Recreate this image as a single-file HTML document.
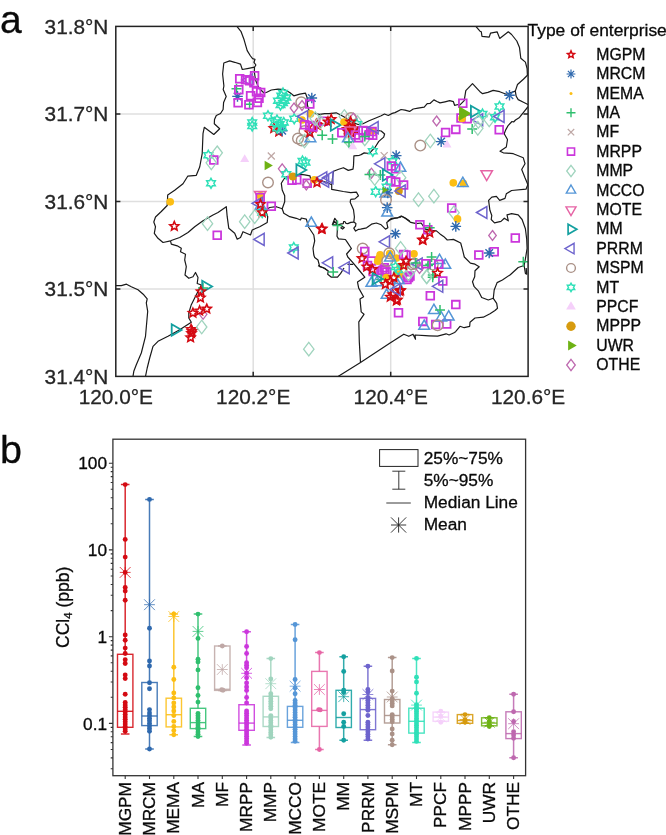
<!DOCTYPE html><html><head><meta charset="utf-8"><title>Figure</title>
<style>html,body{margin:0;padding:0;background:#fff}svg{display:block}text{font-family:"Liberation Sans", sans-serif;fill:#0a0a0a;stroke:#0a0a0a;stroke-width:0.3px}.ax{fill:#262626;stroke:#262626}</style></head><body>
<svg width="666" height="835" viewBox="0 0 666 835">
<rect width="666" height="835" fill="#fff"/>
<text x="0" y="32.8" font-size="39">a</text>
<text x="0" y="463.2" font-size="39.5">b</text>
<g id="map">
<clipPath id="mc"><rect x="115.8" y="26.4" width="412.3" height="350.0"/></clipPath>
<line x1="253.2" x2="253.2" y1="26.4" y2="376.4" stroke="#dfdfdf" stroke-width="1.5"/>
<line x1="390.7" x2="390.7" y1="26.4" y2="376.4" stroke="#dfdfdf" stroke-width="1.5"/>
<line x1="115.8" x2="528.1" y1="288.9" y2="288.9" stroke="#dfdfdf" stroke-width="1.5"/>
<line x1="115.8" x2="528.1" y1="201.4" y2="201.4" stroke="#dfdfdf" stroke-width="1.5"/>
<line x1="115.8" x2="528.1" y1="113.9" y2="113.9" stroke="#dfdfdf" stroke-width="1.5"/>
<g clip-path="url(#mc)" fill="none" stroke="#1a1a1a" stroke-width="1.2" stroke-linejoin="round">
<polyline points="236.9,26.4 241.1,31.7 244.1,39.8 247.2,50.6 250.5,56.0 252.6,58.7 255.0,59.3 254.0,62.3 255.9,65.0 254.5,67.2 254.4,72.3 255.5,80.0 258.0,86.0 260.4,89.5 264.0,93.0 266.3,92.5 271.3,90.0 278.0,89.2 284.7,89.7 289.7,92.5 293.8,95.8 299.7,94.2 305.5,93.2 307.3,98.0 307.4,105.0 308.8,110.0 311.6,112.5 314.7,113.5 319.7,114.3 324.7,113.6 329.0,113.7 336.2,112.8 341.1,115.2 346.0,118.0 352.0,122.0 358.0,124.5 363.0,123.7 369.1,120.7 375.2,118.2 381.2,115.8 384.5,114.0 388.3,115.5 392.2,113.4 395.0,112.6 401.1,109.5 405.0,110.2 409.6,111.4 413.2,109.0 418.0,108.2 424.2,107.2 427.2,103.7 430.0,103.5 433.9,99.9 437.0,101.5 440.0,102.9 445.0,101.8 449.7,100.7 453.4,101.7 454.6,105.3 458.2,104.5 459.2,105.7 464.2,100.7 465.8,90.7 472.5,83.7 478.3,89.8 480.0,91.7 482.6,93.7 487.9,92.4 493.2,90.4 499.7,91.7 506.3,94.3 515.3,91.1"/>
<polyline points="254.5,67.2 248.6,68.3 242.3,69.5 240.5,64.1 234.7,62.3 229.7,60.9 223.8,63.0 222.6,74.0 223.9,86.0 223.2,89.5 226.2,96.5 223.6,102.5 223.1,109.5 220.5,113.5 216.3,115.5 214.5,119.5 214.3,123.7 219.7,128.7 213.8,134.5 204.3,127.3 203.0,133.7 202.2,153.7 199.7,167.0 196.3,175.3 187.7,176.2 183.0,183.7 174.7,190.3 167.7,195.0 167.2,205.5 161.3,211.5 155.5,217.0 153.8,222.0 155.5,226.7 154.3,233.3 158.0,238.3 163.0,242.5 170.5,240.8"/>
<polyline points="170.5,240.8 179.7,237.5 188.0,232.5 194.7,226.7 203.0,220.8 213.0,215.0 218.0,212.5 226.3,206.7 227.2,216.7 228.8,228.3 234.7,233.3 237.2,239.2 240.5,237.5 243.0,231.7 250.5,235.0 252.2,230.0 259.7,226.7 267.2,222.5 267.7,216.7 265.5,210.0 269.7,207.5 276.3,206.7 282.2,208.7"/>
<polyline points="170.5,240.8 171.3,244.2 177.2,245.8 181.3,248.3 180.5,251.7 185.5,254.2 184.7,260.0 186.3,266.7 185.0,275.0 188.8,278.3 193.0,276.7 195.5,272.5 198.0,277.5 197.2,283.5 201.3,285.0 196.3,294.7 191.3,304.7 188.8,313.0 188.8,318.0 191.3,322.2 179.7,329.7 168.0,336.3 158.0,341.3 153.0,346.3 149.7,358.0 147.2,368.0 145.5,376.4"/>
<polyline points="115.8,285.7 121.3,285.6 126.5,284.2 131.3,286.7 138.0,289.8 143.8,294.8 147.2,298.8 146.3,303.0 147.7,311.3 145.5,336.3 141.3,353.0 136.3,364.7 133.8,371.3 133.0,376.4"/>
<polyline points="283.8,179.2 281.3,183.3 282.2,190.0 284.7,195.8 284.7,201.7 282.2,208.7 283.8,213.3 289.7,216.7 296.3,218.3 300.5,220.0 301.3,218.0 306.3,219.2 308.8,227.5 313.8,235.0 314.7,240.8 313.0,248.3 313.8,255.0 314.7,257.5 318.0,260.0 319.7,266.7 324.7,268.3 328.3,271.1 327.7,274.2 331.4,277.2 337.5,277.2 340.5,273.6 344.0,268.0"/>
<polyline points="283.8,179.2 286.0,177.0 290.0,176.3 296.0,175.0 301.1,174.3 304.7,174.9 310.0,175.8 310.7,179.4 316.0,180.0 322.3,181.0 327.5,182.8 331.7,184.7 331.7,189.4 343.3,191.5 350.7,192.6 356.4,192.1 358.5,195.7 354.9,198.9 350.6,199.3"/>
<polyline points="318.0,265.6 322.9,267.5 328.3,271.1"/>
<polyline points="376.4,130.4 381.2,131.0 384.6,134.0 383.7,137.1 378.8,141.4 375.1,147.3 373.9,148.6 369.1,153.5 364.2,152.9 361.1,154.6 359.4,155.3 353.9,155.8 353.7,160.8 353.5,165.4 353.0,169.2 348.3,170.4 343.4,167.7 338.7,169.3 333.5,171.3 332.5,178.0 331.7,184.7"/>
<polyline points="387.8,221.0 391.5,218.4 397.6,217.8 401.2,216.0 404.9,217.8 409.7,221.0"/>
<polyline points="475.8,26.4 480.0,31.2 481.3,31.8 482.0,36.4 489.2,37.1 490.5,33.2 497.1,31.8 499.7,38.4 508.3,31.8 511.6,34.5 516.8,41.0 519.5,47.6 520.8,58.2 525.4,62.1 527.1,68.7 527.4,75.3 523.4,79.2 517.5,84.5 515.3,91.1 516.2,96.3 518.2,99.6 523.4,102.2 527.4,104.2 528.1,104.6"/>
<polyline points="528.1,106.5 527.4,107.5 524.7,110.8 519.5,117.4 515.5,120.0 513.6,122.0 512.0,121.5 508.3,125.3 505.7,129.9 504.2,133.7 507.5,139.5 506.3,147.0 500.0,151.2 503.3,152.8 513.3,153.7 523.3,157.8 525.0,163.7 521.7,169.5 525.0,177.8 527.5,183.7 528.1,186.0"/>
<polyline points="528.1,184.5 527.4,185.8 526.0,189.2 511.6,190.5 506.3,193.8 505.0,198.4 499.7,200.4 496.4,196.4 491.8,197.1 488.6,200.4 489.9,210.3 491.8,215.5 491.2,219.5 494.5,222.8 501.0,221.4 504.3,218.2 508.3,220.8 507.0,214.9 511.6,213.6 518.2,214.9 522.1,219.5 525.4,228.7 526.7,239.2 527.1,248.4 525.4,259.0 524.1,265.5 525.4,273.4 526.7,274.1 526.2,268.0"/>
<polyline points="524.1,265.5 518.2,267.5 510.3,274.7 502.4,280.0 497.1,282.6 494.2,290.0 493.3,298.3 496.7,303.3 497.5,308.3 495.0,310.5 490.0,313.8 483.3,317.2 475.0,318.0 470.0,322.2 469.7,326.3 464.2,327.7 460.0,326.3 455.8,331.3 454.6,332.5 449.1,335.0 446.1,333.8 437.6,336.2 429.0,335.8 425.4,335.6 415.0,335.0 415.5,339.2 413.0,334.2 408.8,336.3 403.8,334.2 389.7,343.3 360.5,362.5 338.0,376.4"/>
<polyline points="350.6,199.3 350.2,202.3 351.4,205.0 353.5,209.8 354.4,217.0 353.8,222.1 355.9,223.6 355.6,226.0 353.8,228.1 355.6,231.1 358.6,229.3 360.6,229.1 366.6,227.8 371.5,224.2 376.4,223.0 381.2,224.8 385.5,229.1 387.9,227.8 386.7,222.4 391.0,219.3 395.0,218.2 399.9,217.5 401.7,216.3 405.9,218.7 410.8,222.4 416.3,223.6 421.1,223.0 425.4,229.1 430.3,230.3 436.4,230.9 440.0,233.9 443.6,236.4 447.3,240.0 453.4,239.4 460.7,243.0 462.5,249.7 464.3,257.0 470.4,263.1 475.0,264.2 479.2,266.7 475.0,270.8 474.7,276.7 472.5,281.7 474.2,286.7 478.3,290.8 481.7,297.5 488.3,300.0 493.3,298.3"/>
<polyline points="353.8,222.1 350.8,222.4 347.8,223.6 346.0,223.3 344.8,221.5 343.6,221.5 343.3,223.6 341.2,223.9 337.6,225.1 337.3,230.8 337.0,236.2 338.5,238.9 345.4,239.5 347.2,242.2 351.4,248.5 346.6,254.0 347.8,257.0 353.3,263.2 359.4,270.5 364.8,277.2 357.5,282.1 358.7,288.1 363.6,296.7 360.0,299.1 361.2,311.9 364.0,314.3 358.8,321.9 359.3,341.7 360.5,362.5"/>
<polyline points="332.3,224.6 334.8,218.3 336.8,221.0 337.2,224.8 332.3,224.6 334.8,221.5 337.2,224.8"/>
<polyline points="340.6,227.8 342.4,226.6 344.3,227.6 342.6,229.1 340.6,227.8"/>
<polyline points="347.5,264.3 353.3,264.3"/>
</g>
<g clip-path="url(#mc)">
<path transform="translate(236.5 88.8)" d="M-5.00 0H5.00 M0 -5.00V5.00" fill="none" stroke="#2fbf6e" stroke-width="1.50" stroke-linejoin="miter"/>
<path transform="translate(249.6 104.3)" d="M-5.00 0H5.00 M0 -5.00V5.00" fill="none" stroke="#2fbf6e" stroke-width="1.50" stroke-linejoin="miter"/>
<path transform="translate(237.5 96.4)" d="M-5.30 -0.00 L5.30 0.00 M-3.75 -3.75 L3.75 3.75 M-0.00 -5.30 L0.00 5.30 M3.75 -3.75 L-3.75 3.75" fill="none" stroke="#2f69ae" stroke-width="1.40" stroke-linejoin="miter"/>
<path transform="translate(248.7 80.0)" d="M-6.90 0.00 L3.45 -5.98 L3.45 5.98Z" fill="none" stroke="#6e64cd" stroke-width="1.50" stroke-linejoin="miter"/>
<path transform="translate(239.7 78.8)" d="M-3.85 -3.85h7.70v7.70h-7.70z" fill="none" stroke="#cb36dc" stroke-width="1.80" stroke-linejoin="miter"/>
<path transform="translate(245.6 79.8)" d="M-3.85 -3.85h7.70v7.70h-7.70z" fill="none" stroke="#cb36dc" stroke-width="1.80" stroke-linejoin="miter"/>
<path transform="translate(249.7 80.8)" d="M-3.85 -3.85h7.70v7.70h-7.70z" fill="none" stroke="#cb36dc" stroke-width="1.80" stroke-linejoin="miter"/>
<path transform="translate(254.6 75.8)" d="M-3.85 -3.85h7.70v7.70h-7.70z" fill="none" stroke="#cb36dc" stroke-width="1.80" stroke-linejoin="miter"/>
<path transform="translate(253.9 82.7)" d="M-3.85 -3.85h7.70v7.70h-7.70z" fill="none" stroke="#cb36dc" stroke-width="1.80" stroke-linejoin="miter"/>
<path transform="translate(238.8 89.8)" d="M-3.85 -3.85h7.70v7.70h-7.70z" fill="none" stroke="#cb36dc" stroke-width="1.80" stroke-linejoin="miter"/>
<path transform="translate(238.1 102.8)" d="M-3.85 -3.85h7.70v7.70h-7.70z" fill="none" stroke="#cb36dc" stroke-width="1.80" stroke-linejoin="miter"/>
<path transform="translate(250.6 95.8)" d="M-3.85 -3.85h7.70v7.70h-7.70z" fill="none" stroke="#cb36dc" stroke-width="1.80" stroke-linejoin="miter"/>
<path transform="translate(248.9 104.7)" d="M-3.85 -3.85h7.70v7.70h-7.70z" fill="none" stroke="#cb36dc" stroke-width="1.80" stroke-linejoin="miter"/>
<path transform="translate(256.5 91.8)" d="M-3.85 -3.85h7.70v7.70h-7.70z" fill="none" stroke="#cb36dc" stroke-width="1.80" stroke-linejoin="miter"/>
<path transform="translate(260.7 92.4)" d="M-3.85 -3.85h7.70v7.70h-7.70z" fill="none" stroke="#cb36dc" stroke-width="1.80" stroke-linejoin="miter"/>
<path transform="translate(259.0 98.2)" d="M-3.85 -3.85h7.70v7.70h-7.70z" fill="none" stroke="#cb36dc" stroke-width="1.80" stroke-linejoin="miter"/>
<path transform="translate(257.4 102.5)" d="M-3.85 -3.85h7.70v7.70h-7.70z" fill="none" stroke="#cb36dc" stroke-width="1.80" stroke-linejoin="miter"/>
<path transform="translate(281.3 95.8)" d="M0.00 -4.95 L1.43 -2.48 L4.29 -2.48 L2.86 0.00 L4.29 2.47 L1.43 2.48 L0.00 4.95 L-1.43 2.48 L-4.29 2.48 L-2.86 0.00 L-4.29 -2.48 L-1.43 -2.47Z" fill="none" stroke="#2fe0b8" stroke-width="1.50" stroke-linejoin="miter"/>
<path transform="translate(284.7 100.8)" d="M0.00 -4.95 L1.43 -2.48 L4.29 -2.48 L2.86 0.00 L4.29 2.47 L1.43 2.48 L0.00 4.95 L-1.43 2.48 L-4.29 2.48 L-2.86 0.00 L-4.29 -2.48 L-1.43 -2.47Z" fill="none" stroke="#2fe0b8" stroke-width="1.50" stroke-linejoin="miter"/>
<path transform="translate(280.5 105.0)" d="M0.00 -4.95 L1.43 -2.48 L4.29 -2.48 L2.86 0.00 L4.29 2.47 L1.43 2.48 L0.00 4.95 L-1.43 2.48 L-4.29 2.48 L-2.86 0.00 L-4.29 -2.48 L-1.43 -2.47Z" fill="none" stroke="#2fe0b8" stroke-width="1.50" stroke-linejoin="miter"/>
<path transform="translate(286.3 97.5)" d="M0.00 -4.95 L1.43 -2.48 L4.29 -2.48 L2.86 0.00 L4.29 2.47 L1.43 2.48 L0.00 4.95 L-1.43 2.48 L-4.29 2.48 L-2.86 0.00 L-4.29 -2.48 L-1.43 -2.47Z" fill="none" stroke="#2fe0b8" stroke-width="1.50" stroke-linejoin="miter"/>
<path transform="translate(278.0 100.8)" d="M0.00 -4.95 L1.43 -2.48 L4.29 -2.48 L2.86 0.00 L4.29 2.47 L1.43 2.48 L0.00 4.95 L-1.43 2.48 L-4.29 2.48 L-2.86 0.00 L-4.29 -2.48 L-1.43 -2.47Z" fill="none" stroke="#2fe0b8" stroke-width="1.50" stroke-linejoin="miter"/>
<path transform="translate(283.0 93.0)" d="M0.00 -4.95 L1.43 -2.48 L4.29 -2.48 L2.86 0.00 L4.29 2.47 L1.43 2.48 L0.00 4.95 L-1.43 2.48 L-4.29 2.48 L-2.86 0.00 L-4.29 -2.48 L-1.43 -2.47Z" fill="none" stroke="#2fe0b8" stroke-width="1.50" stroke-linejoin="miter"/>
<path transform="translate(283.0 103.0)" d="M0.00 -4.95 L1.43 -2.48 L4.29 -2.48 L2.86 0.00 L4.29 2.47 L1.43 2.48 L0.00 4.95 L-1.43 2.48 L-4.29 2.48 L-2.86 0.00 L-4.29 -2.48 L-1.43 -2.47Z" fill="none" stroke="#2fe0b8" stroke-width="1.50" stroke-linejoin="miter"/>
<path transform="translate(252.2 122.5)" d="M0.00 -4.95 L1.43 -2.48 L4.29 -2.48 L2.86 0.00 L4.29 2.47 L1.43 2.48 L0.00 4.95 L-1.43 2.48 L-4.29 2.48 L-2.86 0.00 L-4.29 -2.48 L-1.43 -2.47Z" fill="none" stroke="#2fe0b8" stroke-width="1.50" stroke-linejoin="miter"/>
<path transform="translate(252.2 126.0)" d="M0.00 -4.95 L1.43 -2.48 L4.29 -2.48 L2.86 0.00 L4.29 2.47 L1.43 2.48 L0.00 4.95 L-1.43 2.48 L-4.29 2.48 L-2.86 0.00 L-4.29 -2.48 L-1.43 -2.47Z" fill="none" stroke="#2fe0b8" stroke-width="1.50" stroke-linejoin="miter"/>
<path transform="translate(273.8 128.3)" d="M0.00 -4.70 L1.27 -1.75 L4.47 -1.45 L2.06 0.67 L2.76 3.80 L0.00 2.16 L-2.76 3.80 L-2.06 0.67 L-4.47 -1.45 L-1.27 -1.75Z" fill="none" stroke="#d40a12" stroke-width="1.60" stroke-linejoin="miter"/>
<path transform="translate(278.8 131.7)" d="M0.00 -4.70 L1.27 -1.75 L4.47 -1.45 L2.06 0.67 L2.76 3.80 L0.00 2.16 L-2.76 3.80 L-2.06 0.67 L-4.47 -1.45 L-1.27 -1.75Z" fill="none" stroke="#d40a12" stroke-width="1.60" stroke-linejoin="miter"/>
<path transform="translate(282.2 130.8)" d="M-5.30 -0.00 L5.30 0.00 M-3.75 -3.75 L3.75 3.75 M-0.00 -5.30 L0.00 5.30 M3.75 -3.75 L-3.75 3.75" fill="none" stroke="#2f69ae" stroke-width="1.40" stroke-linejoin="miter"/>
<path transform="translate(268.0 115.8)" d="M0.00 -4.95 L1.43 -2.48 L4.29 -2.48 L2.86 0.00 L4.29 2.47 L1.43 2.48 L0.00 4.95 L-1.43 2.48 L-4.29 2.48 L-2.86 0.00 L-4.29 -2.48 L-1.43 -2.47Z" fill="none" stroke="#2fe0b8" stroke-width="1.50" stroke-linejoin="miter"/>
<path transform="translate(274.7 122.5)" d="M0.00 -4.95 L1.43 -2.48 L4.29 -2.48 L2.86 0.00 L4.29 2.47 L1.43 2.48 L0.00 4.95 L-1.43 2.48 L-4.29 2.48 L-2.86 0.00 L-4.29 -2.48 L-1.43 -2.47Z" fill="none" stroke="#2fe0b8" stroke-width="1.50" stroke-linejoin="miter"/>
<path transform="translate(279.7 124.2)" d="M0.00 -4.95 L1.43 -2.48 L4.29 -2.48 L2.86 0.00 L4.29 2.47 L1.43 2.48 L0.00 4.95 L-1.43 2.48 L-4.29 2.48 L-2.86 0.00 L-4.29 -2.48 L-1.43 -2.47Z" fill="none" stroke="#2fe0b8" stroke-width="1.50" stroke-linejoin="miter"/>
<path transform="translate(283.8 122.5)" d="M0.00 -4.95 L1.43 -2.48 L4.29 -2.48 L2.86 0.00 L4.29 2.47 L1.43 2.48 L0.00 4.95 L-1.43 2.48 L-4.29 2.48 L-2.86 0.00 L-4.29 -2.48 L-1.43 -2.47Z" fill="none" stroke="#2fe0b8" stroke-width="1.50" stroke-linejoin="miter"/>
<path transform="translate(277.2 128.3)" d="M0.00 -4.95 L1.43 -2.48 L4.29 -2.48 L2.86 0.00 L4.29 2.47 L1.43 2.48 L0.00 4.95 L-1.43 2.48 L-4.29 2.48 L-2.86 0.00 L-4.29 -2.48 L-1.43 -2.47Z" fill="none" stroke="#2fe0b8" stroke-width="1.50" stroke-linejoin="miter"/>
<path transform="translate(282.2 127.5)" d="M0.00 -4.95 L1.43 -2.48 L4.29 -2.48 L2.86 0.00 L4.29 2.47 L1.43 2.48 L0.00 4.95 L-1.43 2.48 L-4.29 2.48 L-2.86 0.00 L-4.29 -2.48 L-1.43 -2.47Z" fill="none" stroke="#2fe0b8" stroke-width="1.50" stroke-linejoin="miter"/>
<path transform="translate(277.0 120.0)" d="M0.00 -4.95 L1.43 -2.48 L4.29 -2.48 L2.86 0.00 L4.29 2.47 L1.43 2.48 L0.00 4.95 L-1.43 2.48 L-4.29 2.48 L-2.86 0.00 L-4.29 -2.48 L-1.43 -2.47Z" fill="none" stroke="#2fe0b8" stroke-width="1.50" stroke-linejoin="miter"/>
<path transform="translate(294.2 118.8)" d="M0.00 -4.95 L1.43 -2.48 L4.29 -2.48 L2.86 0.00 L4.29 2.47 L1.43 2.48 L0.00 4.95 L-1.43 2.48 L-4.29 2.48 L-2.86 0.00 L-4.29 -2.48 L-1.43 -2.47Z" fill="none" stroke="#2fe0b8" stroke-width="1.50" stroke-linejoin="miter"/>
<path transform="translate(294.0 108.0)" d="M0 -5.00L3.80 0L0 5.00L-3.80 0Z" fill="none" stroke="#be69af" stroke-width="1.30" stroke-linejoin="miter"/>
<path transform="translate(302.0 105.5)" d="M0 -5.00L3.80 0L0 5.00L-3.80 0Z" fill="none" stroke="#be69af" stroke-width="1.30" stroke-linejoin="miter"/>
<circle cx="301.3" cy="102.3" r="5.30" fill="none" stroke="#aa9187" stroke-width="1.40"/>
<circle cx="298.0" cy="138.5" r="5.30" fill="none" stroke="#aa9187" stroke-width="1.40"/>
<circle cx="301.7" cy="140.5" r="5.30" fill="none" stroke="#aa9187" stroke-width="1.40"/>
<circle cx="304.5" cy="131.0" r="5.30" fill="none" stroke="#aa9187" stroke-width="1.40"/>
<path transform="translate(311.8 98.0)" d="M-5.30 -0.00 L5.30 0.00 M-3.75 -3.75 L3.75 3.75 M-0.00 -5.30 L0.00 5.30 M3.75 -3.75 L-3.75 3.75" fill="none" stroke="#2f69ae" stroke-width="1.40" stroke-linejoin="miter"/>
<path transform="translate(309.8 104.1)" d="M-3.85 -3.85h7.70v7.70h-7.70z" fill="none" stroke="#cb36dc" stroke-width="1.80" stroke-linejoin="miter"/>
<circle cx="310.4" cy="113.9" r="3.85" fill="#fcbe14"/>
<circle cx="302.0" cy="120.0" r="3.85" fill="#fcbe14"/>
<path transform="translate(304.2 116.5)" d="M-6.90 0.00 L3.45 -5.98 L3.45 5.98Z" fill="none" stroke="#6e64cd" stroke-width="1.50" stroke-linejoin="miter"/>
<path transform="translate(304.5 141.0)" d="M0 -6.80L5.20 0L0 6.80L-5.20 0Z" fill="none" stroke="#a0d4be" stroke-width="1.30" stroke-linejoin="miter"/>
<path transform="translate(310.4 138.6)" d="M0.00 -6.20 L5.37 3.10 L-5.37 3.10Z" fill="none" stroke="#5596d7" stroke-width="1.50" stroke-linejoin="miter"/>
<path transform="translate(312.8 127.7)" d="M0.00 -4.70 L1.27 -1.75 L4.47 -1.45 L2.06 0.67 L2.76 3.80 L0.00 2.16 L-2.76 3.80 L-2.06 0.67 L-4.47 -1.45 L-1.27 -1.75Z" fill="none" stroke="#d40a12" stroke-width="1.60" stroke-linejoin="miter"/>
<path transform="translate(309.8 132.6)" d="M0.00 -4.70 L1.27 -1.75 L4.47 -1.45 L2.06 0.67 L2.76 3.80 L0.00 2.16 L-2.76 3.80 L-2.06 0.67 L-4.47 -1.45 L-1.27 -1.75Z" fill="none" stroke="#d40a12" stroke-width="1.60" stroke-linejoin="miter"/>
<path transform="translate(317.7 125.3)" d="M0.00 -4.70 L1.27 -1.75 L4.47 -1.45 L2.06 0.67 L2.76 3.80 L0.00 2.16 L-2.76 3.80 L-2.06 0.67 L-4.47 -1.45 L-1.27 -1.75Z" fill="none" stroke="#d40a12" stroke-width="1.60" stroke-linejoin="miter"/>
<path transform="translate(316.3 124.2)" d="M0.00 -4.70 L1.27 -1.75 L4.47 -1.45 L2.06 0.67 L2.76 3.80 L0.00 2.16 L-2.76 3.80 L-2.06 0.67 L-4.47 -1.45 L-1.27 -1.75Z" fill="none" stroke="#d40a12" stroke-width="1.60" stroke-linejoin="miter"/>
<path transform="translate(304.5 124.8)" d="M-3.85 -3.85h7.70v7.70h-7.70z" fill="none" stroke="#cb36dc" stroke-width="1.80" stroke-linejoin="miter"/>
<path transform="translate(309.8 125.5)" d="M-3.85 -3.85h7.70v7.70h-7.70z" fill="none" stroke="#cb36dc" stroke-width="1.80" stroke-linejoin="miter"/>
<path transform="translate(313.0 127.0)" d="M-3.85 -3.85h7.70v7.70h-7.70z" fill="none" stroke="#cb36dc" stroke-width="1.80" stroke-linejoin="miter"/>
<path transform="translate(323.4 121.2)" d="M-3.85 -3.85h7.70v7.70h-7.70z" fill="none" stroke="#cb36dc" stroke-width="1.80" stroke-linejoin="miter"/>
<path transform="translate(315.3 118.6)" d="M0 -6.80L5.20 0L0 6.80L-5.20 0Z" fill="none" stroke="#a0d4be" stroke-width="1.30" stroke-linejoin="miter"/>
<path transform="translate(320.2 122.0)" d="M0 -6.80L5.20 0L0 6.80L-5.20 0Z" fill="none" stroke="#a0d4be" stroke-width="1.30" stroke-linejoin="miter"/>
<path transform="translate(331.2 119.3)" d="M0.00 -4.70 L1.27 -1.75 L4.47 -1.45 L2.06 0.67 L2.76 3.80 L0.00 2.16 L-2.76 3.80 L-2.06 0.67 L-4.47 -1.45 L-1.27 -1.75Z" fill="none" stroke="#d40a12" stroke-width="1.60" stroke-linejoin="miter"/>
<path transform="translate(328.0 121.7)" d="M0.00 -4.70 L1.27 -1.75 L4.47 -1.45 L2.06 0.67 L2.76 3.80 L0.00 2.16 L-2.76 3.80 L-2.06 0.67 L-4.47 -1.45 L-1.27 -1.75Z" fill="none" stroke="#d40a12" stroke-width="1.60" stroke-linejoin="miter"/>
<path transform="translate(322.2 135.3)" d="M-5.00 0H5.00 M0 -5.00V5.00" fill="none" stroke="#2fbf6e" stroke-width="1.50" stroke-linejoin="miter"/>
<path transform="translate(332.5 139.1)" d="M-5.00 0H5.00 M0 -5.00V5.00" fill="none" stroke="#2fbf6e" stroke-width="1.50" stroke-linejoin="miter"/>
<path transform="translate(334.1 125.0)" d="M6.60 0.00 L-3.30 5.72 L-3.30 -5.72Z" fill="none" stroke="#14a0a0" stroke-width="1.80" stroke-linejoin="miter"/>
<path transform="translate(344.3 116.5)" d="M0 -6.80L5.20 0L0 6.80L-5.20 0Z" fill="none" stroke="#a0d4be" stroke-width="1.30" stroke-linejoin="miter"/>
<path transform="translate(357.5 122.5)" d="M0 -6.80L5.20 0L0 6.80L-5.20 0Z" fill="none" stroke="#a0d4be" stroke-width="1.30" stroke-linejoin="miter"/>
<path transform="translate(364.8 138.9)" d="M0 -6.80L5.20 0L0 6.80L-5.20 0Z" fill="none" stroke="#a0d4be" stroke-width="1.30" stroke-linejoin="miter"/>
<path transform="translate(349.0 141.0)" d="M0 -6.80L5.20 0L0 6.80L-5.20 0Z" fill="none" stroke="#a0d4be" stroke-width="1.30" stroke-linejoin="miter"/>
<circle cx="351.0" cy="118.1" r="5.30" fill="none" stroke="#aa9187" stroke-width="1.40"/>
<path transform="translate(353.3 118.2)" d="M0 -5.00L3.80 0L0 5.00L-3.80 0Z" fill="none" stroke="#be69af" stroke-width="1.30" stroke-linejoin="miter"/>
<circle cx="344.0" cy="122.0" r="3.85" fill="#fcbe14"/>
<path transform="translate(356.9 124.3)" d="M0.00 -4.95 L1.43 -2.48 L4.29 -2.48 L2.86 0.00 L4.29 2.47 L1.43 2.48 L0.00 4.95 L-1.43 2.48 L-4.29 2.48 L-2.86 0.00 L-4.29 -2.48 L-1.43 -2.47Z" fill="none" stroke="#2fe0b8" stroke-width="1.50" stroke-linejoin="miter"/>
<path transform="translate(350.6 121.8)" d="M0.00 -4.70 L1.27 -1.75 L4.47 -1.45 L2.06 0.67 L2.76 3.80 L0.00 2.16 L-2.76 3.80 L-2.06 0.67 L-4.47 -1.45 L-1.27 -1.75Z" fill="none" stroke="#d40a12" stroke-width="1.60" stroke-linejoin="miter"/>
<path transform="translate(347.2 129.2)" d="M0.00 -4.70 L1.27 -1.75 L4.47 -1.45 L2.06 0.67 L2.76 3.80 L0.00 2.16 L-2.76 3.80 L-2.06 0.67 L-4.47 -1.45 L-1.27 -1.75Z" fill="none" stroke="#d40a12" stroke-width="1.60" stroke-linejoin="miter"/>
<path transform="translate(352.1 131.0)" d="M0.00 -4.70 L1.27 -1.75 L4.47 -1.45 L2.06 0.67 L2.76 3.80 L0.00 2.16 L-2.76 3.80 L-2.06 0.67 L-4.47 -1.45 L-1.27 -1.75Z" fill="none" stroke="#d40a12" stroke-width="1.60" stroke-linejoin="miter"/>
<path transform="translate(354.5 128.6)" d="M0.00 -4.70 L1.27 -1.75 L4.47 -1.45 L2.06 0.67 L2.76 3.80 L0.00 2.16 L-2.76 3.80 L-2.06 0.67 L-4.47 -1.45 L-1.27 -1.75Z" fill="none" stroke="#d40a12" stroke-width="1.60" stroke-linejoin="miter"/>
<path transform="translate(349.5 127.0)" d="M0.00 -4.70 L1.27 -1.75 L4.47 -1.45 L2.06 0.67 L2.76 3.80 L0.00 2.16 L-2.76 3.80 L-2.06 0.67 L-4.47 -1.45 L-1.27 -1.75Z" fill="none" stroke="#d40a12" stroke-width="1.60" stroke-linejoin="miter"/>
<path transform="translate(351.5 133.0)" d="M0.00 -4.70 L1.27 -1.75 L4.47 -1.45 L2.06 0.67 L2.76 3.80 L0.00 2.16 L-2.76 3.80 L-2.06 0.67 L-4.47 -1.45 L-1.27 -1.75Z" fill="none" stroke="#d40a12" stroke-width="1.60" stroke-linejoin="miter"/>
<path transform="translate(347.5 131.4)" d="M0.00 -4.70 L1.27 -1.75 L4.47 -1.45 L2.06 0.67 L2.76 3.80 L0.00 2.16 L-2.76 3.80 L-2.06 0.67 L-4.47 -1.45 L-1.27 -1.75Z" fill="none" stroke="#d40a12" stroke-width="1.60" stroke-linejoin="miter"/>
<circle cx="372.1" cy="131.0" r="3.85" fill="#fcbe14"/>
<path transform="translate(341.8 132.8)" d="M-3.85 -3.85h7.70v7.70h-7.70z" fill="none" stroke="#cb36dc" stroke-width="1.80" stroke-linejoin="miter"/>
<path transform="translate(358.7 137.7)" d="M-3.85 -3.85h7.70v7.70h-7.70z" fill="none" stroke="#cb36dc" stroke-width="1.80" stroke-linejoin="miter"/>
<path transform="translate(366.0 131.0)" d="M-3.85 -3.85h7.70v7.70h-7.70z" fill="none" stroke="#cb36dc" stroke-width="1.80" stroke-linejoin="miter"/>
<path transform="translate(369.1 134.7)" d="M-3.85 -3.85h7.70v7.70h-7.70z" fill="none" stroke="#cb36dc" stroke-width="1.80" stroke-linejoin="miter"/>
<path transform="translate(372.1 131.6)" d="M-3.85 -3.85h7.70v7.70h-7.70z" fill="none" stroke="#cb36dc" stroke-width="1.80" stroke-linejoin="miter"/>
<path transform="translate(372.7 135.3)" d="M-3.85 -3.85h7.70v7.70h-7.70z" fill="none" stroke="#cb36dc" stroke-width="1.80" stroke-linejoin="miter"/>
<path transform="translate(363.0 130.4)" d="M-3.85 -3.85h7.70v7.70h-7.70z" fill="none" stroke="#cb36dc" stroke-width="1.80" stroke-linejoin="miter"/>
<path transform="translate(355.4 135.0)" d="M-3.85 -3.85h7.70v7.70h-7.70z" fill="none" stroke="#cb36dc" stroke-width="1.80" stroke-linejoin="miter"/>
<path transform="translate(350.5 130.2)" d="M0.00 6.60 L-5.72 -3.30 L5.72 -3.30Z" fill="none" stroke="#e664a5" stroke-width="1.50" stroke-linejoin="miter"/>
<path transform="translate(374.7 127.6)" d="M-6.90 0.00 L3.45 -5.98 L3.45 5.98Z" fill="none" stroke="#6e64cd" stroke-width="1.50" stroke-linejoin="miter"/>
<path transform="translate(347.9 138.6)" d="M0.00 -6.20 L5.37 3.10 L-5.37 3.10Z" fill="none" stroke="#5596d7" stroke-width="1.50" stroke-linejoin="miter"/>
<path transform="translate(349.0 142.6)" d="M-5.00 0H5.00 M0 -5.00V5.00" fill="none" stroke="#2fbf6e" stroke-width="1.50" stroke-linejoin="miter"/>
<path transform="translate(364.8 136.5)" d="M-5.00 0H5.00 M0 -5.00V5.00" fill="none" stroke="#2fbf6e" stroke-width="1.50" stroke-linejoin="miter"/>
<path transform="translate(352.8 146.7)" d="M0.00 -5.20 L4.50 2.60 L-4.50 2.60Z" fill="#f5d0fa" stroke="none" stroke-width="0.00" stroke-linejoin="miter"/>
<path transform="translate(372.8 151.3)" d="M0.00 -4.95 L1.43 -2.48 L4.29 -2.48 L2.86 0.00 L4.29 2.47 L1.43 2.48 L0.00 4.95 L-1.43 2.48 L-4.29 2.48 L-2.86 0.00 L-4.29 -2.48 L-1.43 -2.47Z" fill="none" stroke="#2fe0b8" stroke-width="1.50" stroke-linejoin="miter"/>
<path transform="translate(208.3 155.3)" d="M0.00 -4.95 L1.43 -2.48 L4.29 -2.48 L2.86 0.00 L4.29 2.47 L1.43 2.48 L0.00 4.95 L-1.43 2.48 L-4.29 2.48 L-2.86 0.00 L-4.29 -2.48 L-1.43 -2.47Z" fill="none" stroke="#2fe0b8" stroke-width="1.50" stroke-linejoin="miter"/>
<path transform="translate(217.2 152.8)" d="M0 -6.80L5.20 0L0 6.80L-5.20 0Z" fill="none" stroke="#a0d4be" stroke-width="1.30" stroke-linejoin="miter"/>
<path transform="translate(213.8 160.0)" d="M-3.85 -3.85h7.70v7.70h-7.70z" fill="none" stroke="#cb36dc" stroke-width="1.80" stroke-linejoin="miter"/>
<path transform="translate(211.3 162.8)" d="M0 -6.80L5.20 0L0 6.80L-5.20 0Z" fill="none" stroke="#a0d4be" stroke-width="1.30" stroke-linejoin="miter"/>
<path transform="translate(211.0 183.3)" d="M0.00 -4.95 L1.43 -2.48 L4.29 -2.48 L2.86 0.00 L4.29 2.47 L1.43 2.48 L0.00 4.95 L-1.43 2.48 L-4.29 2.48 L-2.86 0.00 L-4.29 -2.48 L-1.43 -2.47Z" fill="none" stroke="#2fe0b8" stroke-width="1.50" stroke-linejoin="miter"/>
<circle cx="170.2" cy="201.8" r="3.85" fill="#fcbe14"/>
<path transform="translate(174.3 226.2)" d="M0.00 -4.70 L1.27 -1.75 L4.47 -1.45 L2.06 0.67 L2.76 3.80 L0.00 2.16 L-2.76 3.80 L-2.06 0.67 L-4.47 -1.45 L-1.27 -1.75Z" fill="none" stroke="#d40a12" stroke-width="1.60" stroke-linejoin="miter"/>
<path transform="translate(207.5 223.7)" d="M0 -6.80L5.20 0L0 6.80L-5.20 0Z" fill="none" stroke="#a0d4be" stroke-width="1.30" stroke-linejoin="miter"/>
<path transform="translate(217.2 235.3)" d="M-3.85 -3.85h7.70v7.70h-7.70z" fill="none" stroke="#cb36dc" stroke-width="1.80" stroke-linejoin="miter"/>
<path transform="translate(203.0 288.0)" d="M-5.00 0H5.00 M0 -5.00V5.00" fill="none" stroke="#2fbf6e" stroke-width="1.50" stroke-linejoin="miter"/>
<path transform="translate(205.5 286.5)" d="M6.60 0.00 L-3.30 5.72 L-3.30 -5.72Z" fill="none" stroke="#14a0a0" stroke-width="1.80" stroke-linejoin="miter"/>
<path transform="translate(175.0 330.0)" d="M6.60 0.00 L-3.30 5.72 L-3.30 -5.72Z" fill="none" stroke="#14a0a0" stroke-width="1.80" stroke-linejoin="miter"/>
<path transform="translate(203.1 314.3)" d="M0 -5.00L3.80 0L0 5.00L-3.80 0Z" fill="none" stroke="#be69af" stroke-width="1.30" stroke-linejoin="miter"/>
<path transform="translate(201.0 291.5)" d="M0.00 -4.70 L1.27 -1.75 L4.47 -1.45 L2.06 0.67 L2.76 3.80 L0.00 2.16 L-2.76 3.80 L-2.06 0.67 L-4.47 -1.45 L-1.27 -1.75Z" fill="none" stroke="#d40a12" stroke-width="1.60" stroke-linejoin="miter"/>
<path transform="translate(200.5 297.8)" d="M0.00 -4.70 L1.27 -1.75 L4.47 -1.45 L2.06 0.67 L2.76 3.80 L0.00 2.16 L-2.76 3.80 L-2.06 0.67 L-4.47 -1.45 L-1.27 -1.75Z" fill="none" stroke="#d40a12" stroke-width="1.60" stroke-linejoin="miter"/>
<path transform="translate(192.9 313.0)" d="M0.00 -4.70 L1.27 -1.75 L4.47 -1.45 L2.06 0.67 L2.76 3.80 L0.00 2.16 L-2.76 3.80 L-2.06 0.67 L-4.47 -1.45 L-1.27 -1.75Z" fill="none" stroke="#d40a12" stroke-width="1.60" stroke-linejoin="miter"/>
<path transform="translate(199.6 310.8)" d="M0.00 -4.70 L1.27 -1.75 L4.47 -1.45 L2.06 0.67 L2.76 3.80 L0.00 2.16 L-2.76 3.80 L-2.06 0.67 L-4.47 -1.45 L-1.27 -1.75Z" fill="none" stroke="#d40a12" stroke-width="1.60" stroke-linejoin="miter"/>
<path transform="translate(206.8 308.9)" d="M0.00 -4.70 L1.27 -1.75 L4.47 -1.45 L2.06 0.67 L2.76 3.80 L0.00 2.16 L-2.76 3.80 L-2.06 0.67 L-4.47 -1.45 L-1.27 -1.75Z" fill="none" stroke="#d40a12" stroke-width="1.60" stroke-linejoin="miter"/>
<path transform="translate(191.1 329.3)" d="M0.00 -4.70 L1.27 -1.75 L4.47 -1.45 L2.06 0.67 L2.76 3.80 L0.00 2.16 L-2.76 3.80 L-2.06 0.67 L-4.47 -1.45 L-1.27 -1.75Z" fill="none" stroke="#d40a12" stroke-width="1.60" stroke-linejoin="miter"/>
<path transform="translate(191.5 333.3)" d="M0.00 -4.70 L1.27 -1.75 L4.47 -1.45 L2.06 0.67 L2.76 3.80 L0.00 2.16 L-2.76 3.80 L-2.06 0.67 L-4.47 -1.45 L-1.27 -1.75Z" fill="none" stroke="#d40a12" stroke-width="1.60" stroke-linejoin="miter"/>
<path transform="translate(190.6 337.6)" d="M0.00 -4.70 L1.27 -1.75 L4.47 -1.45 L2.06 0.67 L2.76 3.80 L0.00 2.16 L-2.76 3.80 L-2.06 0.67 L-4.47 -1.45 L-1.27 -1.75Z" fill="none" stroke="#d40a12" stroke-width="1.60" stroke-linejoin="miter"/>
<path transform="translate(192.0 331.3)" d="M0.00 -4.70 L1.27 -1.75 L4.47 -1.45 L2.06 0.67 L2.76 3.80 L0.00 2.16 L-2.76 3.80 L-2.06 0.67 L-4.47 -1.45 L-1.27 -1.75Z" fill="none" stroke="#d40a12" stroke-width="1.60" stroke-linejoin="miter"/>
<path transform="translate(201.7 327.0)" d="M0 -6.80L5.20 0L0 6.80L-5.20 0Z" fill="none" stroke="#a0d4be" stroke-width="1.30" stroke-linejoin="miter"/>
<path transform="translate(244.7 159.5)" d="M0.00 -5.20 L4.50 2.60 L-4.50 2.60Z" fill="#f5d0fa" stroke="none" stroke-width="0.00" stroke-linejoin="miter"/>
<path transform="translate(271.3 156.0)" d="M-3.50 -3.50L3.50 3.50 M-3.50 3.50L3.50 -3.50" fill="none" stroke="#bfa8a6" stroke-width="1.30" stroke-linejoin="miter"/>
<path transform="translate(267.4 165.5)" d="M5.50 0.00 L-2.75 4.76 L-2.75 -4.76Z" fill="#6eb214" stroke="none" stroke-width="0.00" stroke-linejoin="miter"/>
<circle cx="268.0" cy="182.5" r="5.30" fill="none" stroke="#aa9187" stroke-width="1.40"/>
<path transform="translate(282.2 168.8)" d="M0 -5.00L3.80 0L0 5.00L-3.80 0Z" fill="none" stroke="#be69af" stroke-width="1.30" stroke-linejoin="miter"/>
<path transform="translate(286.3 174.2)" d="M0.00 -4.95 L1.43 -2.48 L4.29 -2.48 L2.86 0.00 L4.29 2.47 L1.43 2.48 L0.00 4.95 L-1.43 2.48 L-4.29 2.48 L-2.86 0.00 L-4.29 -2.48 L-1.43 -2.47Z" fill="none" stroke="#2fe0b8" stroke-width="1.50" stroke-linejoin="miter"/>
<path transform="translate(296.8 179.8)" d="M-3.85 -3.85h7.70v7.70h-7.70z" fill="none" stroke="#cb36dc" stroke-width="1.80" stroke-linejoin="miter"/>
<path transform="translate(292.0 180.2)" d="M-3.85 -3.85h7.70v7.70h-7.70z" fill="none" stroke="#cb36dc" stroke-width="1.80" stroke-linejoin="miter"/>
<circle cx="292.8" cy="176.6" r="4.00" fill="#d79b0f"/>
<path transform="translate(299.7 170.0)" d="M6.60 0.00 L-3.30 5.72 L-3.30 -5.72Z" fill="none" stroke="#14a0a0" stroke-width="1.80" stroke-linejoin="miter"/>
<path transform="translate(302.5 161.0)" d="M0.00 -4.95 L1.43 -2.48 L4.29 -2.48 L2.86 0.00 L4.29 2.47 L1.43 2.48 L0.00 4.95 L-1.43 2.48 L-4.29 2.48 L-2.86 0.00 L-4.29 -2.48 L-1.43 -2.47Z" fill="none" stroke="#2fe0b8" stroke-width="1.50" stroke-linejoin="miter"/>
<path transform="translate(305.5 162.5)" d="M0.00 -4.95 L1.43 -2.48 L4.29 -2.48 L2.86 0.00 L4.29 2.47 L1.43 2.48 L0.00 4.95 L-1.43 2.48 L-4.29 2.48 L-2.86 0.00 L-4.29 -2.48 L-1.43 -2.47Z" fill="none" stroke="#2fe0b8" stroke-width="1.50" stroke-linejoin="miter"/>
<path transform="translate(307.2 183.3)" d="M-3.85 -3.85h7.70v7.70h-7.70z" fill="none" stroke="#cb36dc" stroke-width="1.80" stroke-linejoin="miter"/>
<path transform="translate(306.3 185.0)" d="M0 -5.00L3.80 0L0 5.00L-3.80 0Z" fill="none" stroke="#be69af" stroke-width="1.30" stroke-linejoin="miter"/>
<circle cx="314.3" cy="179.8" r="3.85" fill="#fcbe14"/>
<path transform="translate(325.2 181.2)" d="M-6.90 0.00 L3.45 -5.98 L3.45 5.98Z" fill="none" stroke="#6e64cd" stroke-width="1.50" stroke-linejoin="miter"/>
<path transform="translate(329.5 177.6)" d="M-6.90 0.00 L3.45 -5.98 L3.45 5.98Z" fill="none" stroke="#6e64cd" stroke-width="1.50" stroke-linejoin="miter"/>
<path transform="translate(323.3 177.8)" d="M-6.90 0.00 L3.45 -5.98 L3.45 5.98Z" fill="none" stroke="#6e64cd" stroke-width="1.50" stroke-linejoin="miter"/>
<path transform="translate(317.0 182.6)" d="M0.00 -4.70 L1.27 -1.75 L4.47 -1.45 L2.06 0.67 L2.76 3.80 L0.00 2.16 L-2.76 3.80 L-2.06 0.67 L-4.47 -1.45 L-1.27 -1.75Z" fill="none" stroke="#d40a12" stroke-width="1.60" stroke-linejoin="miter"/>
<path transform="translate(260.2 194.8)" d="M0.00 6.60 L-5.72 -3.30 L5.72 -3.30Z" fill="none" stroke="#e664a5" stroke-width="1.50" stroke-linejoin="miter"/>
<circle cx="260.5" cy="195.8" r="3.85" fill="#fcbe14"/>
<path transform="translate(260.2 197.5)" d="M-3.85 -3.85h7.70v7.70h-7.70z" fill="none" stroke="#cb36dc" stroke-width="1.80" stroke-linejoin="miter"/>
<path transform="translate(258.9 203.3)" d="M-6.90 0.00 L3.45 -5.98 L3.45 5.98Z" fill="none" stroke="#6e64cd" stroke-width="1.50" stroke-linejoin="miter"/>
<path transform="translate(260.5 206.1)" d="M0.00 -6.20 L5.37 3.10 L-5.37 3.10Z" fill="none" stroke="#5596d7" stroke-width="1.50" stroke-linejoin="miter"/>
<path transform="translate(260.5 204.2)" d="M0.00 -4.70 L1.27 -1.75 L4.47 -1.45 L2.06 0.67 L2.76 3.80 L0.00 2.16 L-2.76 3.80 L-2.06 0.67 L-4.47 -1.45 L-1.27 -1.75Z" fill="none" stroke="#d40a12" stroke-width="1.60" stroke-linejoin="miter"/>
<path transform="translate(271.3 206.3)" d="M-3.85 -3.85h7.70v7.70h-7.70z" fill="none" stroke="#cb36dc" stroke-width="1.80" stroke-linejoin="miter"/>
<path transform="translate(262.2 212.5)" d="M0.00 -4.95 L1.43 -2.48 L4.29 -2.48 L2.86 0.00 L4.29 2.47 L1.43 2.48 L0.00 4.95 L-1.43 2.48 L-4.29 2.48 L-2.86 0.00 L-4.29 -2.48 L-1.43 -2.47Z" fill="none" stroke="#2fe0b8" stroke-width="1.50" stroke-linejoin="miter"/>
<path transform="translate(262.2 212.5)" d="M0.00 -4.70 L1.27 -1.75 L4.47 -1.45 L2.06 0.67 L2.76 3.80 L0.00 2.16 L-2.76 3.80 L-2.06 0.67 L-4.47 -1.45 L-1.27 -1.75Z" fill="none" stroke="#d40a12" stroke-width="1.60" stroke-linejoin="miter"/>
<path transform="translate(244.7 221.7)" d="M0 -6.80L5.20 0L0 6.80L-5.20 0Z" fill="none" stroke="#a0d4be" stroke-width="1.30" stroke-linejoin="miter"/>
<path transform="translate(254.7 216.7)" d="M0 -6.80L5.20 0L0 6.80L-5.20 0Z" fill="none" stroke="#a0d4be" stroke-width="1.30" stroke-linejoin="miter"/>
<path transform="translate(260.7 239.4)" d="M-6.90 0.00 L3.45 -5.98 L3.45 5.98Z" fill="none" stroke="#6e64cd" stroke-width="1.50" stroke-linejoin="miter"/>
<path transform="translate(311.3 223.2)" d="M0.00 -6.20 L5.37 3.10 L-5.37 3.10Z" fill="none" stroke="#5596d7" stroke-width="1.50" stroke-linejoin="miter"/>
<path transform="translate(322.2 228.8)" d="M0.00 -4.70 L1.27 -1.75 L4.47 -1.45 L2.06 0.67 L2.76 3.80 L0.00 2.16 L-2.76 3.80 L-2.06 0.67 L-4.47 -1.45 L-1.27 -1.75Z" fill="none" stroke="#d40a12" stroke-width="1.60" stroke-linejoin="miter"/>
<path transform="translate(293.8 247.5)" d="M0.00 -4.95 L1.43 -2.48 L4.29 -2.48 L2.86 0.00 L4.29 2.47 L1.43 2.48 L0.00 4.95 L-1.43 2.48 L-4.29 2.48 L-2.86 0.00 L-4.29 -2.48 L-1.43 -2.47Z" fill="none" stroke="#2fe0b8" stroke-width="1.50" stroke-linejoin="miter"/>
<path transform="translate(294.7 253.0)" d="M-6.90 0.00 L3.45 -5.98 L3.45 5.98Z" fill="none" stroke="#6e64cd" stroke-width="1.50" stroke-linejoin="miter"/>
<path transform="translate(329.2 262.8)" d="M-6.90 0.00 L3.45 -5.98 L3.45 5.98Z" fill="none" stroke="#6e64cd" stroke-width="1.50" stroke-linejoin="miter"/>
<path transform="translate(345.8 267.7)" d="M-6.90 0.00 L3.45 -5.98 L3.45 5.98Z" fill="none" stroke="#6e64cd" stroke-width="1.50" stroke-linejoin="miter"/>
<path transform="translate(333.2 272.0)" d="M-5.00 0H5.00 M0 -5.00V5.00" fill="none" stroke="#2fbf6e" stroke-width="1.50" stroke-linejoin="miter"/>
<path transform="translate(337.5 225.4)" d="M-5.00 0H5.00 M0 -5.00V5.00" fill="none" stroke="#2fbf6e" stroke-width="1.50" stroke-linejoin="miter"/>
<path transform="translate(308.8 349.2)" d="M0 -6.80L5.20 0L0 6.80L-5.20 0Z" fill="none" stroke="#a0d4be" stroke-width="1.30" stroke-linejoin="miter"/>
<path transform="translate(384.2 155.6)" d="M-3.50 -3.50L3.50 3.50 M-3.50 3.50L3.50 -3.50" fill="none" stroke="#bfa8a6" stroke-width="1.30" stroke-linejoin="miter"/>
<path transform="translate(396.2 155.6)" d="M-5.30 -0.00 L5.30 0.00 M-3.75 -3.75 L3.75 3.75 M-0.00 -5.30 L0.00 5.30 M3.75 -3.75 L-3.75 3.75" fill="none" stroke="#2f69ae" stroke-width="1.40" stroke-linejoin="miter"/>
<path transform="translate(381.4 163.8)" d="M-6.90 0.00 L3.45 -5.98 L3.45 5.98Z" fill="none" stroke="#6e64cd" stroke-width="1.50" stroke-linejoin="miter"/>
<path transform="translate(392.7 161.3)" d="M0.00 -4.95 L1.43 -2.48 L4.29 -2.48 L2.86 0.00 L4.29 2.47 L1.43 2.48 L0.00 4.95 L-1.43 2.48 L-4.29 2.48 L-2.86 0.00 L-4.29 -2.48 L-1.43 -2.47Z" fill="none" stroke="#2fe0b8" stroke-width="1.50" stroke-linejoin="miter"/>
<path transform="translate(391.3 166.0)" d="M-3.85 -3.85h7.70v7.70h-7.70z" fill="none" stroke="#cb36dc" stroke-width="1.80" stroke-linejoin="miter"/>
<path transform="translate(395.7 168.8)" d="M-3.85 -3.85h7.70v7.70h-7.70z" fill="none" stroke="#cb36dc" stroke-width="1.80" stroke-linejoin="miter"/>
<path transform="translate(400.4 168.2)" d="M0.00 -6.20 L5.37 3.10 L-5.37 3.10Z" fill="none" stroke="#5596d7" stroke-width="1.50" stroke-linejoin="miter"/>
<path transform="translate(371.4 173.2)" d="M0 -5.00L3.80 0L0 5.00L-3.80 0Z" fill="none" stroke="#be69af" stroke-width="1.30" stroke-linejoin="miter"/>
<path transform="translate(369.5 174.5)" d="M-5.00 0H5.00 M0 -5.00V5.00" fill="none" stroke="#2fbf6e" stroke-width="1.50" stroke-linejoin="miter"/>
<path transform="translate(380.3 174.9)" d="M-5.00 0H5.00 M0 -5.00V5.00" fill="none" stroke="#2fbf6e" stroke-width="1.50" stroke-linejoin="miter"/>
<path transform="translate(386.1 175.0)" d="M6.60 0.00 L-3.30 5.72 L-3.30 -5.72Z" fill="none" stroke="#14a0a0" stroke-width="1.80" stroke-linejoin="miter"/>
<path transform="translate(374.7 178.5)" d="M0 -6.80L5.20 0L0 6.80L-5.20 0Z" fill="none" stroke="#a0d4be" stroke-width="1.30" stroke-linejoin="miter"/>
<path transform="translate(400.6 177.7)" d="M0 -6.80L5.20 0L0 6.80L-5.20 0Z" fill="none" stroke="#a0d4be" stroke-width="1.30" stroke-linejoin="miter"/>
<path transform="translate(390.9 180.7)" d="M-3.85 -3.85h7.70v7.70h-7.70z" fill="none" stroke="#cb36dc" stroke-width="1.80" stroke-linejoin="miter"/>
<path transform="translate(395.7 182.0)" d="M-3.85 -3.85h7.70v7.70h-7.70z" fill="none" stroke="#cb36dc" stroke-width="1.80" stroke-linejoin="miter"/>
<path transform="translate(403.6 185.0)" d="M-3.85 -3.85h7.70v7.70h-7.70z" fill="none" stroke="#cb36dc" stroke-width="1.80" stroke-linejoin="miter"/>
<circle cx="398.8" cy="191.1" r="4.00" fill="#d79b0f"/>
<path transform="translate(401.7 191.1)" d="M-6.90 0.00 L3.45 -5.98 L3.45 5.98Z" fill="none" stroke="#6e64cd" stroke-width="1.50" stroke-linejoin="miter"/>
<path transform="translate(375.7 191.7)" d="M0.00 -4.95 L1.43 -2.48 L4.29 -2.48 L2.86 0.00 L4.29 2.47 L1.43 2.48 L0.00 4.95 L-1.43 2.48 L-4.29 2.48 L-2.86 0.00 L-4.29 -2.48 L-1.43 -2.47Z" fill="none" stroke="#2fe0b8" stroke-width="1.50" stroke-linejoin="miter"/>
<path transform="translate(386.6 186.8)" d="M0.00 -4.95 L1.43 -2.48 L4.29 -2.48 L2.86 0.00 L4.29 2.47 L1.43 2.48 L0.00 4.95 L-1.43 2.48 L-4.29 2.48 L-2.86 0.00 L-4.29 -2.48 L-1.43 -2.47Z" fill="none" stroke="#2fe0b8" stroke-width="1.50" stroke-linejoin="miter"/>
<path transform="translate(385.4 193.9)" d="M0.00 -6.20 L5.37 3.10 L-5.37 3.10Z" fill="none" stroke="#5596d7" stroke-width="1.50" stroke-linejoin="miter"/>
<path transform="translate(387.8 192.9)" d="M-5.30 -0.00 L5.30 0.00 M-3.75 -3.75 L3.75 3.75 M-0.00 -5.30 L0.00 5.30 M3.75 -3.75 L-3.75 3.75" fill="none" stroke="#2f69ae" stroke-width="1.40" stroke-linejoin="miter"/>
<path transform="translate(384.5 190.0)" d="M3.85 0.00 L-1.92 3.33 L-1.93 -3.33Z" fill="#6eb214" stroke="none" stroke-width="0.00" stroke-linejoin="miter"/>
<circle cx="386.0" cy="200.0" r="5.30" fill="none" stroke="#aa9187" stroke-width="1.40"/>
<path transform="translate(387.2 207.6)" d="M-5.30 -0.00 L5.30 0.00 M-3.75 -3.75 L3.75 3.75 M-0.00 -5.30 L0.00 5.30 M3.75 -3.75 L-3.75 3.75" fill="none" stroke="#2f69ae" stroke-width="1.40" stroke-linejoin="miter"/>
<path transform="translate(387.2 212.9)" d="M0.00 -6.20 L5.37 3.10 L-5.37 3.10Z" fill="none" stroke="#5596d7" stroke-width="1.50" stroke-linejoin="miter"/>
<circle cx="420.3" cy="145.6" r="5.30" fill="none" stroke="#aa9187" stroke-width="1.40"/>
<path transform="translate(430.3 141.0)" d="M0 -6.80L5.20 0L0 6.80L-5.20 0Z" fill="none" stroke="#a0d4be" stroke-width="1.30" stroke-linejoin="miter"/>
<path transform="translate(441.2 141.6)" d="M-5.30 -0.00 L5.30 0.00 M-3.75 -3.75 L3.75 3.75 M-0.00 -5.30 L0.00 5.30 M3.75 -3.75 L-3.75 3.75" fill="none" stroke="#2f69ae" stroke-width="1.40" stroke-linejoin="miter"/>
<path transform="translate(447.0 144.9)" d="M0.00 -5.20 L4.50 2.60 L-4.50 2.60Z" fill="#f5d0fa" stroke="none" stroke-width="0.00" stroke-linejoin="miter"/>
<path transform="translate(436.6 121.0)" d="M0 -5.00L3.80 0L0 5.00L-3.80 0Z" fill="none" stroke="#be69af" stroke-width="1.30" stroke-linejoin="miter"/>
<path transform="translate(445.6 132.5)" d="M-3.85 -3.85h7.70v7.70h-7.70z" fill="none" stroke="#cb36dc" stroke-width="1.80" stroke-linejoin="miter"/>
<path transform="translate(455.8 129.4)" d="M-3.85 -3.85h7.70v7.70h-7.70z" fill="none" stroke="#cb36dc" stroke-width="1.80" stroke-linejoin="miter"/>
<path transform="translate(462.8 103.3)" d="M-3.85 -3.85h7.70v7.70h-7.70z" fill="none" stroke="#cb36dc" stroke-width="1.80" stroke-linejoin="miter"/>
<path transform="translate(461.0 118.0)" d="M-3.85 -3.85h7.70v7.70h-7.70z" fill="none" stroke="#cb36dc" stroke-width="1.80" stroke-linejoin="miter"/>
<path transform="translate(467.2 118.8)" d="M-3.85 -3.85h7.70v7.70h-7.70z" fill="none" stroke="#cb36dc" stroke-width="1.80" stroke-linejoin="miter"/>
<circle cx="462.0" cy="118.4" r="3.85" fill="#fcbe14"/>
<path transform="translate(463.2 113.5)" d="M8.25 0.00 L-4.12 7.14 L-4.13 -7.14Z" fill="#6eb214" stroke="none" stroke-width="0.00" stroke-linejoin="miter"/>
<path transform="translate(474.2 111.5)" d="M6.60 0.00 L-3.30 5.72 L-3.30 -5.72Z" fill="none" stroke="#14a0a0" stroke-width="1.80" stroke-linejoin="miter"/>
<path transform="translate(479.2 119.8)" d="M-6.90 0.00 L3.45 -5.98 L3.45 5.98Z" fill="none" stroke="#6e64cd" stroke-width="1.50" stroke-linejoin="miter"/>
<path transform="translate(482.5 114.0)" d="M0.00 -4.95 L1.43 -2.48 L4.29 -2.48 L2.86 0.00 L4.29 2.47 L1.43 2.48 L0.00 4.95 L-1.43 2.48 L-4.29 2.48 L-2.86 0.00 L-4.29 -2.48 L-1.43 -2.47Z" fill="none" stroke="#2fe0b8" stroke-width="1.50" stroke-linejoin="miter"/>
<path transform="translate(478.3 121.5)" d="M0 -6.80L5.20 0L0 6.80L-5.20 0Z" fill="none" stroke="#a0d4be" stroke-width="1.30" stroke-linejoin="miter"/>
<path transform="translate(489.2 119.8)" d="M0 -6.80L5.20 0L0 6.80L-5.20 0Z" fill="none" stroke="#a0d4be" stroke-width="1.30" stroke-linejoin="miter"/>
<path transform="translate(499.5 106.5)" d="M0.00 -4.95 L1.43 -2.48 L4.29 -2.48 L2.86 0.00 L4.29 2.47 L1.43 2.48 L0.00 4.95 L-1.43 2.48 L-4.29 2.48 L-2.86 0.00 L-4.29 -2.48 L-1.43 -2.47Z" fill="none" stroke="#2fe0b8" stroke-width="1.50" stroke-linejoin="miter"/>
<path transform="translate(495.0 117.3)" d="M0.00 -4.95 L1.43 -2.48 L4.29 -2.48 L2.86 0.00 L4.29 2.47 L1.43 2.48 L0.00 4.95 L-1.43 2.48 L-4.29 2.48 L-2.86 0.00 L-4.29 -2.48 L-1.43 -2.47Z" fill="none" stroke="#2fe0b8" stroke-width="1.50" stroke-linejoin="miter"/>
<path transform="translate(500.6 116.4)" d="M-6.90 0.00 L3.45 -5.98 L3.45 5.98Z" fill="none" stroke="#6e64cd" stroke-width="1.50" stroke-linejoin="miter"/>
<path transform="translate(499.2 129.7)" d="M-3.85 -3.85h7.70v7.70h-7.70z" fill="none" stroke="#cb36dc" stroke-width="1.80" stroke-linejoin="miter"/>
<path transform="translate(472.2 129.0)" d="M-5.00 0H5.00 M0 -5.00V5.00" fill="none" stroke="#2fbf6e" stroke-width="1.50" stroke-linejoin="miter"/>
<path transform="translate(477.8 128.3)" d="M0 -6.80L5.20 0L0 6.80L-5.20 0Z" fill="none" stroke="#a0d4be" stroke-width="1.30" stroke-linejoin="miter"/>
<path transform="translate(509.5 95.3)" d="M-5.30 -0.00 L5.30 0.00 M-3.75 -3.75 L3.75 3.75 M-0.00 -5.30 L0.00 5.30 M3.75 -3.75 L-3.75 3.75" fill="none" stroke="#2f69ae" stroke-width="1.40" stroke-linejoin="miter"/>
<path transform="translate(486.7 174.0)" d="M0.00 6.60 L-5.72 -3.30 L5.72 -3.30Z" fill="none" stroke="#e664a5" stroke-width="1.50" stroke-linejoin="miter"/>
<circle cx="453.3" cy="182.8" r="3.85" fill="#fcbe14"/>
<circle cx="463.3" cy="183.3" r="3.85" fill="#fcbe14"/>
<path transform="translate(462.8 183.4)" d="M0.00 -6.20 L5.37 3.10 L-5.37 3.10Z" fill="none" stroke="#5596d7" stroke-width="1.50" stroke-linejoin="miter"/>
<path transform="translate(418.5 199.7)" d="M0 -6.80L5.20 0L0 6.80L-5.20 0Z" fill="none" stroke="#a0d4be" stroke-width="1.30" stroke-linejoin="miter"/>
<path transform="translate(433.9 196.2)" d="M0 -6.80L5.20 0L0 6.80L-5.20 0Z" fill="none" stroke="#a0d4be" stroke-width="1.30" stroke-linejoin="miter"/>
<path transform="translate(451.7 208.0)" d="M-3.85 -3.85h7.70v7.70h-7.70z" fill="none" stroke="#cb36dc" stroke-width="1.80" stroke-linejoin="miter"/>
<path transform="translate(454.0 212.7)" d="M0 -6.80L5.20 0L0 6.80L-5.20 0Z" fill="none" stroke="#a0d4be" stroke-width="1.30" stroke-linejoin="miter"/>
<circle cx="457.5" cy="218.9" r="3.85" fill="#fcbe14"/>
<path transform="translate(455.8 226.4)" d="M-5.30 -0.00 L5.30 0.00 M-3.75 -3.75 L3.75 3.75 M-0.00 -5.30 L0.00 5.30 M3.75 -3.75 L-3.75 3.75" fill="none" stroke="#2f69ae" stroke-width="1.40" stroke-linejoin="miter"/>
<path transform="translate(483.4 212.5)" d="M-6.90 0.00 L3.45 -5.98 L3.45 5.98Z" fill="none" stroke="#6e64cd" stroke-width="1.50" stroke-linejoin="miter"/>
<path transform="translate(492.5 235.5)" d="M0 -5.00L3.80 0L0 5.00L-3.80 0Z" fill="none" stroke="#be69af" stroke-width="1.30" stroke-linejoin="miter"/>
<path transform="translate(515.3 238.0)" d="M-3.85 -3.85h7.70v7.70h-7.70z" fill="none" stroke="#cb36dc" stroke-width="1.80" stroke-linejoin="miter"/>
<path transform="translate(494.2 251.7)" d="M-3.85 -3.85h7.70v7.70h-7.70z" fill="none" stroke="#cb36dc" stroke-width="1.80" stroke-linejoin="miter"/>
<path transform="translate(478.8 255.0)" d="M-3.85 -3.85h7.70v7.70h-7.70z" fill="none" stroke="#cb36dc" stroke-width="1.80" stroke-linejoin="miter"/>
<path transform="translate(489.2 253.0)" d="M-5.30 -0.00 L5.30 0.00 M-3.75 -3.75 L3.75 3.75 M-0.00 -5.30 L0.00 5.30 M3.75 -3.75 L-3.75 3.75" fill="none" stroke="#2f69ae" stroke-width="1.40" stroke-linejoin="miter"/>
<path transform="translate(523.3 261.7)" d="M-5.00 0H5.00 M0 -5.00V5.00" fill="none" stroke="#2fbf6e" stroke-width="1.50" stroke-linejoin="miter"/>
<path transform="translate(321.6 229.1)" d="M0.00 -4.70 L1.27 -1.75 L4.47 -1.45 L2.06 0.67 L2.76 3.80 L0.00 2.16 L-2.76 3.80 L-2.06 0.67 L-4.47 -1.45 L-1.27 -1.75Z" fill="none" stroke="#d40a12" stroke-width="1.60" stroke-linejoin="miter"/>
<path transform="translate(395.4 233.8)" d="M-5.30 -0.00 L5.30 0.00 M-3.75 -3.75 L3.75 3.75 M-0.00 -5.30 L0.00 5.30 M3.75 -3.75 L-3.75 3.75" fill="none" stroke="#2f69ae" stroke-width="1.40" stroke-linejoin="miter"/>
<path transform="translate(386.0 241.8)" d="M-6.90 0.00 L3.45 -5.98 L3.45 5.98Z" fill="none" stroke="#6e64cd" stroke-width="1.50" stroke-linejoin="miter"/>
<circle cx="362.7" cy="248.5" r="5.30" fill="none" stroke="#aa9187" stroke-width="1.40"/>
<path transform="translate(364.8 251.5)" d="M-3.85 -3.85h7.70v7.70h-7.70z" fill="none" stroke="#cb36dc" stroke-width="1.80" stroke-linejoin="miter"/>
<path transform="translate(362.0 258.4)" d="M0.00 -4.70 L1.27 -1.75 L4.47 -1.45 L2.06 0.67 L2.76 3.80 L0.00 2.16 L-2.76 3.80 L-2.06 0.67 L-4.47 -1.45 L-1.27 -1.75Z" fill="none" stroke="#d40a12" stroke-width="1.60" stroke-linejoin="miter"/>
<path transform="translate(371.5 260.9)" d="M-3.85 -3.85h7.70v7.70h-7.70z" fill="none" stroke="#cb36dc" stroke-width="1.80" stroke-linejoin="miter"/>
<path transform="translate(367.5 265.5)" d="M-3.85 -3.85h7.70v7.70h-7.70z" fill="none" stroke="#cb36dc" stroke-width="1.80" stroke-linejoin="miter"/>
<path transform="translate(373.2 271.5)" d="M-3.85 -3.85h7.70v7.70h-7.70z" fill="none" stroke="#cb36dc" stroke-width="1.80" stroke-linejoin="miter"/>
<path transform="translate(382.5 270.4)" d="M-3.85 -3.85h7.70v7.70h-7.70z" fill="none" stroke="#cb36dc" stroke-width="1.80" stroke-linejoin="miter"/>
<path transform="translate(386.8 272.0)" d="M-3.85 -3.85h7.70v7.70h-7.70z" fill="none" stroke="#cb36dc" stroke-width="1.80" stroke-linejoin="miter"/>
<path transform="translate(384.2 267.8)" d="M-3.85 -3.85h7.70v7.70h-7.70z" fill="none" stroke="#cb36dc" stroke-width="1.80" stroke-linejoin="miter"/>
<path transform="translate(366.8 266.8)" d="M0.00 -4.70 L1.27 -1.75 L4.47 -1.45 L2.06 0.67 L2.76 3.80 L0.00 2.16 L-2.76 3.80 L-2.06 0.67 L-4.47 -1.45 L-1.27 -1.75Z" fill="none" stroke="#d40a12" stroke-width="1.60" stroke-linejoin="miter"/>
<path transform="translate(372.4 269.4)" d="M0.00 -4.70 L1.27 -1.75 L4.47 -1.45 L2.06 0.67 L2.76 3.80 L0.00 2.16 L-2.76 3.80 L-2.06 0.67 L-4.47 -1.45 L-1.27 -1.75Z" fill="none" stroke="#d40a12" stroke-width="1.60" stroke-linejoin="miter"/>
<path transform="translate(385.0 269.7)" d="M-3.85 -3.85h7.70v7.70h-7.70z" fill="none" stroke="#cb36dc" stroke-width="1.80" stroke-linejoin="miter"/>
<circle cx="380.1" cy="254.9" r="3.85" fill="#fcbe14"/>
<circle cx="377.8" cy="261.2" r="3.85" fill="#fcbe14"/>
<circle cx="379.1" cy="258.2" r="3.85" fill="#fcbe14"/>
<circle cx="396.4" cy="258.1" r="3.85" fill="#fcbe14"/>
<circle cx="400.2" cy="266.6" r="3.85" fill="#fcbe14"/>
<circle cx="386.4" cy="277.5" r="3.85" fill="#fcbe14"/>
<circle cx="397.2" cy="274.0" r="3.85" fill="#fcbe14"/>
<circle cx="414.0" cy="253.8" r="3.85" fill="#fcbe14"/>
<circle cx="389.7" cy="253.6" r="3.85" fill="#fcbe14"/>
<circle cx="400.3" cy="274.4" r="3.85" fill="#fcbe14"/>
<circle cx="389.3" cy="253.3" r="5.30" fill="none" stroke="#aa9187" stroke-width="1.40"/>
<circle cx="387.2" cy="261.1" r="5.30" fill="none" stroke="#aa9187" stroke-width="1.40"/>
<path transform="translate(390.0 257.9)" d="M0.00 -6.20 L5.37 3.10 L-5.37 3.10Z" fill="none" stroke="#5596d7" stroke-width="1.50" stroke-linejoin="miter"/>
<path transform="translate(395.5 267.0)" d="M0.00 -4.95 L1.43 -2.48 L4.29 -2.48 L2.86 0.00 L4.29 2.47 L1.43 2.48 L0.00 4.95 L-1.43 2.48 L-4.29 2.48 L-2.86 0.00 L-4.29 -2.48 L-1.43 -2.47Z" fill="none" stroke="#2fe0b8" stroke-width="1.50" stroke-linejoin="miter"/>
<path transform="translate(398.0 270.0)" d="M0.00 -4.95 L1.43 -2.48 L4.29 -2.48 L2.86 0.00 L4.29 2.47 L1.43 2.48 L0.00 4.95 L-1.43 2.48 L-4.29 2.48 L-2.86 0.00 L-4.29 -2.48 L-1.43 -2.47Z" fill="none" stroke="#2fe0b8" stroke-width="1.50" stroke-linejoin="miter"/>
<path transform="translate(403.6 254.5)" d="M-3.85 -3.85h7.70v7.70h-7.70z" fill="none" stroke="#cb36dc" stroke-width="1.80" stroke-linejoin="miter"/>
<path transform="translate(406.0 255.0)" d="M-3.85 -3.85h7.70v7.70h-7.70z" fill="none" stroke="#cb36dc" stroke-width="1.80" stroke-linejoin="miter"/>
<path transform="translate(408.5 277.6)" d="M-3.85 -3.85h7.70v7.70h-7.70z" fill="none" stroke="#cb36dc" stroke-width="1.80" stroke-linejoin="miter"/>
<path transform="translate(407.0 279.5)" d="M-3.85 -3.85h7.70v7.70h-7.70z" fill="none" stroke="#cb36dc" stroke-width="1.80" stroke-linejoin="miter"/>
<path transform="translate(410.0 276.0)" d="M-3.85 -3.85h7.70v7.70h-7.70z" fill="none" stroke="#cb36dc" stroke-width="1.80" stroke-linejoin="miter"/>
<path transform="translate(400.6 248.4)" d="M0 -6.80L5.20 0L0 6.80L-5.20 0Z" fill="none" stroke="#a0d4be" stroke-width="1.30" stroke-linejoin="miter"/>
<path transform="translate(410.9 270.3)" d="M0 -6.80L5.20 0L0 6.80L-5.20 0Z" fill="none" stroke="#a0d4be" stroke-width="1.30" stroke-linejoin="miter"/>
<path transform="translate(408.5 273.9)" d="M0 -6.80L5.20 0L0 6.80L-5.20 0Z" fill="none" stroke="#a0d4be" stroke-width="1.30" stroke-linejoin="miter"/>
<path transform="translate(426.8 277.0)" d="M0 -6.80L5.20 0L0 6.80L-5.20 0Z" fill="none" stroke="#a0d4be" stroke-width="1.30" stroke-linejoin="miter"/>
<circle cx="414.6" cy="263.6" r="5.30" fill="none" stroke="#aa9187" stroke-width="1.40"/>
<circle cx="432.8" cy="264.6" r="5.30" fill="none" stroke="#aa9187" stroke-width="1.40"/>
<circle cx="412.0" cy="264.3" r="5.30" fill="none" stroke="#aa9187" stroke-width="1.40"/>
<path transform="translate(418.7 264.0)" d="M-6.90 0.00 L3.45 -5.98 L3.45 5.98Z" fill="none" stroke="#6e64cd" stroke-width="1.50" stroke-linejoin="miter"/>
<path transform="translate(419.5 268.5)" d="M0 -5.00L3.80 0L0 5.00L-3.80 0Z" fill="none" stroke="#be69af" stroke-width="1.30" stroke-linejoin="miter"/>
<path transform="translate(431.6 256.9)" d="M-5.00 0H5.00 M0 -5.00V5.00" fill="none" stroke="#2fbf6e" stroke-width="1.50" stroke-linejoin="miter"/>
<path transform="translate(428.0 265.4)" d="M-5.00 0H5.00 M0 -5.00V5.00" fill="none" stroke="#2fbf6e" stroke-width="1.50" stroke-linejoin="miter"/>
<path transform="translate(432.8 275.1)" d="M-5.00 0H5.00 M0 -5.00V5.00" fill="none" stroke="#2fbf6e" stroke-width="1.50" stroke-linejoin="miter"/>
<path transform="translate(415.8 263.0)" d="M-5.00 0H5.00 M0 -5.00V5.00" fill="none" stroke="#2fbf6e" stroke-width="1.50" stroke-linejoin="miter"/>
<path transform="translate(381.1 279.4)" d="M-5.00 0H5.00 M0 -5.00V5.00" fill="none" stroke="#2fbf6e" stroke-width="1.50" stroke-linejoin="miter"/>
<path transform="translate(430.3 264.3)" d="M-5.00 0H5.00 M0 -5.00V5.00" fill="none" stroke="#2fbf6e" stroke-width="1.50" stroke-linejoin="miter"/>
<path transform="translate(432.7 277.2)" d="M-5.00 0H5.00 M0 -5.00V5.00" fill="none" stroke="#2fbf6e" stroke-width="1.50" stroke-linejoin="miter"/>
<path transform="translate(371.4 283.2)" d="M0.00 -6.20 L5.37 3.10 L-5.37 3.10Z" fill="none" stroke="#5596d7" stroke-width="1.50" stroke-linejoin="miter"/>
<path transform="translate(376.9 282.6)" d="M0.00 -6.20 L5.37 3.10 L-5.37 3.10Z" fill="none" stroke="#5596d7" stroke-width="1.50" stroke-linejoin="miter"/>
<path transform="translate(375.9 278.8)" d="M6.60 0.00 L-3.30 5.72 L-3.30 -5.72Z" fill="none" stroke="#14a0a0" stroke-width="1.80" stroke-linejoin="miter"/>
<path transform="translate(398.8 280.4)" d="M0.00 -6.20 L5.37 3.10 L-5.37 3.10Z" fill="none" stroke="#5596d7" stroke-width="1.50" stroke-linejoin="miter"/>
<path transform="translate(397.6 285.2)" d="M0.00 -6.20 L5.37 3.10 L-5.37 3.10Z" fill="none" stroke="#5596d7" stroke-width="1.50" stroke-linejoin="miter"/>
<path transform="translate(386.6 295.2)" d="M0.00 -6.20 L5.37 3.10 L-5.37 3.10Z" fill="none" stroke="#5596d7" stroke-width="1.50" stroke-linejoin="miter"/>
<path transform="translate(439.5 260.4)" d="M0.00 -6.20 L5.37 3.10 L-5.37 3.10Z" fill="none" stroke="#5596d7" stroke-width="1.50" stroke-linejoin="miter"/>
<path transform="translate(445.3 265.2)" d="M0.00 -6.20 L5.37 3.10 L-5.37 3.10Z" fill="none" stroke="#5596d7" stroke-width="1.50" stroke-linejoin="miter"/>
<path transform="translate(438.8 264.3)" d="M-3.85 -3.85h7.70v7.70h-7.70z" fill="none" stroke="#cb36dc" stroke-width="1.80" stroke-linejoin="miter"/>
<path transform="translate(426.0 263.7)" d="M-3.85 -3.85h7.70v7.70h-7.70z" fill="none" stroke="#cb36dc" stroke-width="1.80" stroke-linejoin="miter"/>
<path transform="translate(385.4 284.3)" d="M0.00 -4.70 L1.27 -1.75 L4.47 -1.45 L2.06 0.67 L2.76 3.80 L0.00 2.16 L-2.76 3.80 L-2.06 0.67 L-4.47 -1.45 L-1.27 -1.75Z" fill="none" stroke="#d40a12" stroke-width="1.60" stroke-linejoin="miter"/>
<path transform="translate(390.3 281.2)" d="M0.00 -4.70 L1.27 -1.75 L4.47 -1.45 L2.06 0.67 L2.76 3.80 L0.00 2.16 L-2.76 3.80 L-2.06 0.67 L-4.47 -1.45 L-1.27 -1.75Z" fill="none" stroke="#d40a12" stroke-width="1.60" stroke-linejoin="miter"/>
<path transform="translate(393.9 277.6)" d="M0.00 -4.70 L1.27 -1.75 L4.47 -1.45 L2.06 0.67 L2.76 3.80 L0.00 2.16 L-2.76 3.80 L-2.06 0.67 L-4.47 -1.45 L-1.27 -1.75Z" fill="none" stroke="#d40a12" stroke-width="1.60" stroke-linejoin="miter"/>
<path transform="translate(392.7 294.6)" d="M0.00 -4.70 L1.27 -1.75 L4.47 -1.45 L2.06 0.67 L2.76 3.80 L0.00 2.16 L-2.76 3.80 L-2.06 0.67 L-4.47 -1.45 L-1.27 -1.75Z" fill="none" stroke="#d40a12" stroke-width="1.60" stroke-linejoin="miter"/>
<path transform="translate(396.4 300.7)" d="M0.00 -4.70 L1.27 -1.75 L4.47 -1.45 L2.06 0.67 L2.76 3.80 L0.00 2.16 L-2.76 3.80 L-2.06 0.67 L-4.47 -1.45 L-1.27 -1.75Z" fill="none" stroke="#d40a12" stroke-width="1.60" stroke-linejoin="miter"/>
<path transform="translate(400.6 290.3)" d="M0.00 -4.70 L1.27 -1.75 L4.47 -1.45 L2.06 0.67 L2.76 3.80 L0.00 2.16 L-2.76 3.80 L-2.06 0.67 L-4.47 -1.45 L-1.27 -1.75Z" fill="none" stroke="#d40a12" stroke-width="1.60" stroke-linejoin="miter"/>
<path transform="translate(390.3 297.0)" d="M0.00 -4.70 L1.27 -1.75 L4.47 -1.45 L2.06 0.67 L2.76 3.80 L0.00 2.16 L-2.76 3.80 L-2.06 0.67 L-4.47 -1.45 L-1.27 -1.75Z" fill="none" stroke="#d40a12" stroke-width="1.60" stroke-linejoin="miter"/>
<path transform="translate(403.6 265.4)" d="M0.00 -4.70 L1.27 -1.75 L4.47 -1.45 L2.06 0.67 L2.76 3.80 L0.00 2.16 L-2.76 3.80 L-2.06 0.67 L-4.47 -1.45 L-1.27 -1.75Z" fill="none" stroke="#d40a12" stroke-width="1.60" stroke-linejoin="miter"/>
<path transform="translate(406.1 261.1)" d="M0.00 -4.70 L1.27 -1.75 L4.47 -1.45 L2.06 0.67 L2.76 3.80 L0.00 2.16 L-2.76 3.80 L-2.06 0.67 L-4.47 -1.45 L-1.27 -1.75Z" fill="none" stroke="#d40a12" stroke-width="1.60" stroke-linejoin="miter"/>
<path transform="translate(397.4 299.7)" d="M0.00 -4.70 L1.27 -1.75 L4.47 -1.45 L2.06 0.67 L2.76 3.80 L0.00 2.16 L-2.76 3.80 L-2.06 0.67 L-4.47 -1.45 L-1.27 -1.75Z" fill="none" stroke="#d40a12" stroke-width="1.60" stroke-linejoin="miter"/>
<path transform="translate(399.9 291.2)" d="M0.00 -4.70 L1.27 -1.75 L4.47 -1.45 L2.06 0.67 L2.76 3.80 L0.00 2.16 L-2.76 3.80 L-2.06 0.67 L-4.47 -1.45 L-1.27 -1.75Z" fill="none" stroke="#d40a12" stroke-width="1.60" stroke-linejoin="miter"/>
<path transform="translate(437.6 273.0)" d="M0.00 -4.70 L1.27 -1.75 L4.47 -1.45 L2.06 0.67 L2.76 3.80 L0.00 2.16 L-2.76 3.80 L-2.06 0.67 L-4.47 -1.45 L-1.27 -1.75Z" fill="none" stroke="#d40a12" stroke-width="1.60" stroke-linejoin="miter"/>
<path transform="translate(396.8 289.7)" d="M-6.90 0.00 L3.45 -5.98 L3.45 5.98Z" fill="none" stroke="#6e64cd" stroke-width="1.50" stroke-linejoin="miter"/>
<path transform="translate(419.9 224.8)" d="M-3.85 -3.85h7.70v7.70h-7.70z" fill="none" stroke="#cb36dc" stroke-width="1.80" stroke-linejoin="miter"/>
<path transform="translate(427.8 229.7)" d="M-3.85 -3.85h7.70v7.70h-7.70z" fill="none" stroke="#cb36dc" stroke-width="1.80" stroke-linejoin="miter"/>
<path transform="translate(429.7 227.8)" d="M-5.00 0H5.00 M0 -5.00V5.00" fill="none" stroke="#2fbf6e" stroke-width="1.50" stroke-linejoin="miter"/>
<path transform="translate(429.7 232.7)" d="M0.00 -4.70 L1.27 -1.75 L4.47 -1.45 L2.06 0.67 L2.76 3.80 L0.00 2.16 L-2.76 3.80 L-2.06 0.67 L-4.47 -1.45 L-1.27 -1.75Z" fill="none" stroke="#d40a12" stroke-width="1.60" stroke-linejoin="miter"/>
<path transform="translate(423.0 240.0)" d="M0.00 -4.70 L1.27 -1.75 L4.47 -1.45 L2.06 0.67 L2.76 3.80 L0.00 2.16 L-2.76 3.80 L-2.06 0.67 L-4.47 -1.45 L-1.27 -1.75Z" fill="none" stroke="#d40a12" stroke-width="1.60" stroke-linejoin="miter"/>
<path transform="translate(422.5 239.9)" d="M0.00 -4.70 L1.27 -1.75 L4.47 -1.45 L2.06 0.67 L2.76 3.80 L0.00 2.16 L-2.76 3.80 L-2.06 0.67 L-4.47 -1.45 L-1.27 -1.75Z" fill="none" stroke="#d40a12" stroke-width="1.60" stroke-linejoin="miter"/>
<path transform="translate(442.8 281.0)" d="M-3.85 -3.85h7.70v7.70h-7.70z" fill="none" stroke="#cb36dc" stroke-width="1.80" stroke-linejoin="miter"/>
<path transform="translate(439.3 286.3)" d="M-6.90 0.00 L3.45 -5.98 L3.45 5.98Z" fill="none" stroke="#6e64cd" stroke-width="1.50" stroke-linejoin="miter"/>
<path transform="translate(426.6 276.6)" d="M0 -6.80L5.20 0L0 6.80L-5.20 0Z" fill="none" stroke="#a0d4be" stroke-width="1.30" stroke-linejoin="miter"/>
<path transform="translate(430.3 295.8)" d="M-3.85 -3.85h7.70v7.70h-7.70z" fill="none" stroke="#cb36dc" stroke-width="1.80" stroke-linejoin="miter"/>
<path transform="translate(455.8 304.6)" d="M-3.85 -3.85h7.70v7.70h-7.70z" fill="none" stroke="#cb36dc" stroke-width="1.80" stroke-linejoin="miter"/>
<path transform="translate(398.5 312.8)" d="M-3.85 -3.85h7.70v7.70h-7.70z" fill="none" stroke="#cb36dc" stroke-width="1.80" stroke-linejoin="miter"/>
<path transform="translate(422.8 321.4)" d="M-3.85 -3.85h7.70v7.70h-7.70z" fill="none" stroke="#cb36dc" stroke-width="1.80" stroke-linejoin="miter"/>
<path transform="translate(435.7 324.6)" d="M-3.85 -3.85h7.70v7.70h-7.70z" fill="none" stroke="#cb36dc" stroke-width="1.80" stroke-linejoin="miter"/>
<path transform="translate(446.7 324.0)" d="M-3.85 -3.85h7.70v7.70h-7.70z" fill="none" stroke="#cb36dc" stroke-width="1.80" stroke-linejoin="miter"/>
<path transform="translate(433.9 310.4)" d="M0.00 -6.20 L5.37 3.10 L-5.37 3.10Z" fill="none" stroke="#5596d7" stroke-width="1.50" stroke-linejoin="miter"/>
<path transform="translate(441.2 317.8)" d="M0.00 -6.20 L5.37 3.10 L-5.37 3.10Z" fill="none" stroke="#5596d7" stroke-width="1.50" stroke-linejoin="miter"/>
<path transform="translate(448.7 316.9)" d="M0.00 -6.20 L5.37 3.10 L-5.37 3.10Z" fill="none" stroke="#5596d7" stroke-width="1.50" stroke-linejoin="miter"/>
<path transform="translate(424.2 326.2)" d="M0.00 -6.20 L5.37 3.10 L-5.37 3.10Z" fill="none" stroke="#5596d7" stroke-width="1.50" stroke-linejoin="miter"/>
<path transform="translate(440.0 310.0)" d="M-5.00 0H5.00 M0 -5.00V5.00" fill="none" stroke="#2fbf6e" stroke-width="1.50" stroke-linejoin="miter"/>
<circle cx="437.6" cy="325.3" r="5.30" fill="none" stroke="#aa9187" stroke-width="1.40"/>
</g>
<rect x="115.8" y="26.4" width="412.3" height="350.0" fill="none" stroke="#222" stroke-width="1.5"/>
<path d="M253.2 376.4v-4.6 M253.2 26.4v4.6" stroke="#262626" stroke-width="1.5"/>
<path d="M390.7 376.4v-4.6 M390.7 26.4v4.6" stroke="#262626" stroke-width="1.5"/>
<path d="M115.8 288.9h4.6 M528.1 288.9h-4.6" stroke="#262626" stroke-width="1.5"/>
<path d="M115.8 201.4h4.6 M528.1 201.4h-4.6" stroke="#262626" stroke-width="1.5"/>
<path d="M115.8 113.9h4.6 M528.1 113.9h-4.6" stroke="#262626" stroke-width="1.5"/>
<text class="ax" x="108.4" y="33.6" font-size="20.8" text-anchor="end">31.8°N</text>
<text class="ax" x="108.4" y="121.1" font-size="20.8" text-anchor="end">31.7°N</text>
<text class="ax" x="108.4" y="208.6" font-size="20.8" text-anchor="end">31.6°N</text>
<text class="ax" x="108.4" y="296.1" font-size="20.8" text-anchor="end">31.5°N</text>
<text class="ax" x="108.4" y="383.6" font-size="20.8" text-anchor="end">31.4°N</text>
<text class="ax" x="115.8" y="403.6" font-size="20.8" text-anchor="middle">120.0°E</text>
<text class="ax" x="253.2" y="403.6" font-size="20.8" text-anchor="middle">120.2°E</text>
<text class="ax" x="390.7" y="403.6" font-size="20.8" text-anchor="middle">120.4°E</text>
<text class="ax" x="528.1" y="403.6" font-size="20.8" text-anchor="middle">120.6°E</text>
</g>
<g id="maplegend">
<text x="527.6" y="35.8" font-size="17.4">Type of enterprise</text>
<path transform="translate(571.0 54.6)" d="M0.00 -3.70 L1.00 -1.38 L3.52 -1.14 L1.62 0.53 L2.17 2.99 L0.00 1.70 L-2.17 2.99 L-1.62 0.53 L-3.52 -1.14 L-1.00 -1.38Z" fill="none" stroke="#d40a12" stroke-width="1.50" stroke-linejoin="miter"/>
<text x="596.3" y="59.8" font-size="15.8">MGPM</text>
<path transform="translate(571.0 74.0)" d="M-4.40 -0.00 L4.40 0.00 M-3.11 -3.11 L3.11 3.11 M-0.00 -4.40 L0.00 4.40 M3.11 -3.11 L-3.11 3.11" fill="none" stroke="#2f69ae" stroke-width="1.20" stroke-linejoin="miter"/>
<text x="596.3" y="79.2" font-size="15.8">MRCM</text>
<circle cx="571.0" cy="93.4" r="1.50" fill="#fcbe14"/>
<text x="596.3" y="98.6" font-size="15.8">MEMA</text>
<path transform="translate(571.0 112.8)" d="M-4.50 0H4.50 M0 -4.50V4.50" fill="none" stroke="#2fbf6e" stroke-width="1.40" stroke-linejoin="miter"/>
<text x="596.3" y="118.0" font-size="15.8">MA</text>
<path transform="translate(571.0 132.2)" d="M-3.20 -3.20L3.20 3.20 M-3.20 3.20L3.20 -3.20" fill="none" stroke="#bfa8a6" stroke-width="1.20" stroke-linejoin="miter"/>
<text x="596.3" y="137.4" font-size="15.8">MF</text>
<path transform="translate(571.0 151.6)" d="M-3.55 -3.55h7.10v7.10h-7.10z" fill="none" stroke="#cb36dc" stroke-width="1.60" stroke-linejoin="miter"/>
<text x="596.3" y="156.8" font-size="15.8">MRPP</text>
<path transform="translate(571.0 171.0)" d="M0 -5.60L4.30 0L0 5.60L-4.30 0Z" fill="none" stroke="#a0d4be" stroke-width="1.30" stroke-linejoin="miter"/>
<text x="596.3" y="176.2" font-size="15.8">MMP</text>
<path transform="translate(571.0 190.4)" d="M0.00 -5.40 L4.68 2.70 L-4.68 2.70Z" fill="none" stroke="#5596d7" stroke-width="1.40" stroke-linejoin="miter"/>
<text x="596.3" y="195.6" font-size="15.8">MCCO</text>
<path transform="translate(571.0 209.8)" d="M0.00 5.80 L-5.02 -2.90 L5.02 -2.90Z" fill="none" stroke="#e664a5" stroke-width="1.40" stroke-linejoin="miter"/>
<text x="596.3" y="215.0" font-size="15.8">MOTE</text>
<path transform="translate(571.0 229.2)" d="M5.80 0.00 L-2.90 5.02 L-2.90 -5.02Z" fill="none" stroke="#14a0a0" stroke-width="1.70" stroke-linejoin="miter"/>
<text x="596.3" y="234.4" font-size="15.8">MM</text>
<path transform="translate(571.0 248.6)" d="M-6.10 0.00 L3.05 -5.28 L3.05 5.28Z" fill="none" stroke="#6e64cd" stroke-width="1.40" stroke-linejoin="miter"/>
<text x="596.3" y="253.8" font-size="15.8">PRRM</text>
<circle cx="571.0" cy="268.0" r="4.40" fill="none" stroke="#aa9187" stroke-width="1.40"/>
<text x="596.3" y="273.2" font-size="15.8">MSPM</text>
<path transform="translate(571.0 287.4)" d="M0.00 -4.30 L1.24 -2.15 L3.72 -2.15 L2.48 0.00 L3.72 2.15 L1.24 2.15 L0.00 4.30 L-1.24 2.15 L-3.72 2.15 L-2.48 0.00 L-3.72 -2.15 L-1.24 -2.15Z" fill="none" stroke="#2fe0b8" stroke-width="1.40" stroke-linejoin="miter"/>
<text x="596.3" y="292.6" font-size="15.8">MT</text>
<path transform="translate(571.0 306.8)" d="M0.00 -5.60 L4.85 2.80 L-4.85 2.80Z" fill="#f5d0fa" stroke="none" stroke-width="0.00" stroke-linejoin="miter"/>
<text x="596.3" y="312.0" font-size="15.8">PPCF</text>
<circle cx="571.0" cy="326.2" r="4.70" fill="#d79b0f"/>
<text x="596.3" y="331.4" font-size="15.8">MPPP</text>
<path transform="translate(571.0 345.6)" d="M5.75 0.00 L-2.87 4.98 L-2.88 -4.98Z" fill="#6eb214" stroke="none" stroke-width="0.00" stroke-linejoin="miter"/>
<text x="596.3" y="350.8" font-size="15.8">UWR</text>
<path transform="translate(571.0 365.0)" d="M0 -5.60L4.30 0L0 5.60L-4.30 0Z" fill="none" stroke="#be69af" stroke-width="1.30" stroke-linejoin="miter"/>
<text x="596.3" y="370.2" font-size="15.8">OTHE</text>
</g>
<g id="box">
<clipPath id="bc"><rect x="112.9" y="439.2" width="412.7" height="336.5"/></clipPath>
<g stroke="#d40a12" fill="none" stroke-width="1.4" stroke-opacity="0.88">
<path d="M125.2 484.6V654.3 M125.2 727.3V734.0 M120.9 484.6h8.6 M120.9 734.0h8.6" stroke-width="1.5"/>
<rect x="117.5" y="654.3" width="15.4" height="73.0"/>
<path d="M117.5 711.3h15.4"/>
</g>
<g fill="#d40a12">
<circle cx="125.2" cy="484.6" r="2.45"/>
<circle cx="125.2" cy="539.4" r="2.45"/>
<circle cx="125.2" cy="557.1" r="2.45"/>
<circle cx="125.2" cy="572.4" r="2.45"/>
<circle cx="125.2" cy="587.4" r="2.45"/>
<circle cx="125.2" cy="591.1" r="2.45"/>
<circle cx="125.2" cy="600.3" r="2.45"/>
<circle cx="125.2" cy="634.9" r="2.45"/>
<circle cx="125.2" cy="640.2" r="2.45"/>
<circle cx="125.2" cy="648.1" r="2.45"/>
<circle cx="125.2" cy="653.5" r="2.45"/>
<circle cx="125.2" cy="659.8" r="2.45"/>
<circle cx="125.2" cy="663.5" r="2.45"/>
<circle cx="125.2" cy="674.9" r="2.45"/>
<circle cx="125.2" cy="678.6" r="2.45"/>
<circle cx="125.2" cy="694.2" r="2.45"/>
<circle cx="125.2" cy="702.5" r="2.45"/>
<circle cx="125.2" cy="704.9" r="2.45"/>
<circle cx="125.2" cy="707.3" r="2.45"/>
<circle cx="125.2" cy="709.7" r="2.45"/>
<circle cx="125.2" cy="712.1" r="2.45"/>
<circle cx="125.2" cy="714.5" r="2.45"/>
<circle cx="125.2" cy="716.9" r="2.45"/>
<circle cx="125.2" cy="719.3" r="2.45"/>
<circle cx="125.2" cy="721.7" r="2.45"/>
<circle cx="125.2" cy="724.1" r="2.45"/>
<circle cx="125.2" cy="726.5" r="2.45"/>
<circle cx="125.2" cy="728.9" r="2.45"/>
<circle cx="125.2" cy="731.3" r="2.45"/>
</g>
<path transform="translate(125.2 572.4)" d="M-5.4 0H5.4 M0 -5.4V5.4 M-5.4 -5.4L5.4 5.4 M-5.4 5.4L5.4 -5.4" stroke="#d40a12" stroke-width="0.8" stroke-opacity="0.95" fill="none"/>
<g stroke="#2f69ae" fill="none" stroke-width="1.4" stroke-opacity="0.88">
<path d="M149.5 499.4V682.5 M149.5 725.6V749.0 M145.2 499.4h8.6 M145.2 749.0h8.6" stroke-width="1.5"/>
<rect x="141.8" y="682.5" width="15.4" height="43.1"/>
<path d="M141.8 716.0h15.4"/>
</g>
<g fill="#2f69ae">
<circle cx="149.5" cy="499.4" r="2.45"/>
<circle cx="149.5" cy="628.2" r="2.45"/>
<circle cx="149.5" cy="661.0" r="2.45"/>
<circle cx="149.5" cy="666.0" r="2.45"/>
<circle cx="149.5" cy="682.8" r="2.45"/>
<circle cx="149.5" cy="688.7" r="2.45"/>
<circle cx="149.5" cy="709.6" r="2.45"/>
<circle cx="149.5" cy="713.0" r="2.45"/>
<circle cx="149.5" cy="715.6" r="2.45"/>
<circle cx="149.5" cy="718.2" r="2.45"/>
<circle cx="149.5" cy="720.8" r="2.45"/>
<circle cx="149.5" cy="723.4" r="2.45"/>
<circle cx="149.5" cy="726.0" r="2.45"/>
<circle cx="149.5" cy="728.6" r="2.45"/>
<circle cx="149.5" cy="731.2" r="2.45"/>
<circle cx="149.5" cy="749.0" r="2.45"/>
</g>
<path transform="translate(149.5 604.7)" d="M-5.4 0H5.4 M0 -5.4V5.4 M-5.4 -5.4L5.4 5.4 M-5.4 5.4L5.4 -5.4" stroke="#2f69ae" stroke-width="0.8" stroke-opacity="0.95" fill="none"/>
<g stroke="#fcbe14" fill="none" stroke-width="1.4" stroke-opacity="0.88">
<path d="M173.8 613.9V698.2 M173.8 726.9V734.8 M169.4 613.9h8.6 M169.4 734.8h8.6" stroke-width="1.5"/>
<rect x="166.1" y="698.2" width="15.4" height="28.7"/>
<path d="M166.1 714.7h15.4"/>
</g>
<g fill="#fcbe14">
<circle cx="173.8" cy="613.9" r="2.45"/>
<circle cx="173.8" cy="667.2" r="2.45"/>
<circle cx="173.8" cy="679.5" r="2.45"/>
<circle cx="173.8" cy="692.9" r="2.45"/>
<circle cx="173.8" cy="697.9" r="2.45"/>
<circle cx="173.8" cy="703.0" r="2.45"/>
<circle cx="173.8" cy="707.0" r="2.45"/>
<circle cx="173.8" cy="711.0" r="2.45"/>
<circle cx="173.8" cy="715.5" r="2.45"/>
<circle cx="173.8" cy="721.4" r="2.45"/>
<circle cx="173.8" cy="726.4" r="2.45"/>
<circle cx="173.8" cy="730.6" r="2.45"/>
<circle cx="173.8" cy="734.8" r="2.45"/>
</g>
<path transform="translate(173.8 616.5)" d="M-5.4 0H5.4 M0 -5.4V5.4 M-5.4 -5.4L5.4 5.4 M-5.4 5.4L5.4 -5.4" stroke="#fcbe14" stroke-width="0.8" stroke-opacity="0.95" fill="none"/>
<g stroke="#2fbf6e" fill="none" stroke-width="1.4" stroke-opacity="0.88">
<path d="M198.0 614.1V708.3 M198.0 728.6V736.5 M193.7 614.1h8.6 M193.7 736.5h8.6" stroke-width="1.5"/>
<rect x="190.3" y="708.3" width="15.4" height="20.3"/>
<path d="M190.3 722.6h15.4"/>
</g>
<g fill="#2fbf6e">
<circle cx="198.0" cy="614.1" r="2.45"/>
<circle cx="198.0" cy="638.4" r="2.45"/>
<circle cx="198.0" cy="659.3" r="2.45"/>
<circle cx="198.0" cy="661.9" r="2.45"/>
<circle cx="198.0" cy="669.9" r="2.45"/>
<circle cx="198.0" cy="687.8" r="2.45"/>
<circle cx="198.0" cy="695.4" r="2.45"/>
<circle cx="198.0" cy="702.1" r="2.45"/>
<circle cx="198.0" cy="713.5" r="2.45"/>
<circle cx="198.0" cy="715.8" r="2.45"/>
<circle cx="198.0" cy="718.1" r="2.45"/>
<circle cx="198.0" cy="720.4" r="2.45"/>
<circle cx="198.0" cy="722.7" r="2.45"/>
<circle cx="198.0" cy="725.0" r="2.45"/>
<circle cx="198.0" cy="727.3" r="2.45"/>
<circle cx="198.0" cy="729.6" r="2.45"/>
<circle cx="198.0" cy="731.9" r="2.45"/>
<circle cx="198.0" cy="734.2" r="2.45"/>
<circle cx="198.0" cy="736.5" r="2.45"/>
</g>
<path transform="translate(198.0 631.4)" d="M-5.4 0H5.4 M0 -5.4V5.4 M-5.4 -5.4L5.4 5.4 M-5.4 5.4L5.4 -5.4" stroke="#2fbf6e" stroke-width="0.8" stroke-opacity="0.95" fill="none"/>
<g stroke="#bfa8a6" fill="none" stroke-width="1.4" stroke-opacity="0.88">
<path d="M222.3 646.0V646.0 M222.3 690.4V690.4 M218.0 646.0h8.6 M218.0 690.4h8.6" stroke-width="1.5"/>
<rect x="214.6" y="646.0" width="15.4" height="44.4"/>
<path d="M214.6 689.3h15.4"/>
</g>
<g fill="#bfa8a6">
<circle cx="222.3" cy="646.0" r="2.45"/>
<circle cx="221.7" cy="689.8" r="2.45"/>
<circle cx="223.0" cy="690.2" r="2.45"/>
</g>
<path transform="translate(222.3 669.5)" d="M-5.4 0H5.4 M0 -5.4V5.4 M-5.4 -5.4L5.4 5.4 M-5.4 5.4L5.4 -5.4" stroke="#bfa8a6" stroke-width="0.8" stroke-opacity="0.95" fill="none"/>
<g stroke="#cb36dc" fill="none" stroke-width="1.4" stroke-opacity="0.88">
<path d="M246.6 631.7V704.7 M246.6 730.3V744.9 M242.3 631.7h8.6 M242.3 744.9h8.6" stroke-width="1.5"/>
<rect x="238.9" y="704.7" width="15.4" height="25.6"/>
<path d="M238.9 723.1h15.4"/>
</g>
<g fill="#cb36dc">
<circle cx="246.6" cy="631.7" r="2.45"/>
<circle cx="246.6" cy="646.5" r="2.45"/>
<circle cx="246.6" cy="653.5" r="2.45"/>
<circle cx="246.6" cy="662.8" r="2.45"/>
<circle cx="246.6" cy="665.3" r="2.45"/>
<circle cx="246.6" cy="667.8" r="2.45"/>
<circle cx="246.6" cy="673.3" r="2.45"/>
<circle cx="246.6" cy="677.8" r="2.45"/>
<circle cx="246.6" cy="682.9" r="2.45"/>
<circle cx="246.6" cy="687.0" r="2.45"/>
<circle cx="246.6" cy="690.4" r="2.45"/>
<circle cx="246.6" cy="697.5" r="2.45"/>
<circle cx="246.6" cy="703.0" r="2.45"/>
<circle cx="246.6" cy="711.0" r="2.45"/>
<circle cx="246.6" cy="713.3" r="2.45"/>
<circle cx="246.6" cy="715.6" r="2.45"/>
<circle cx="246.6" cy="717.9" r="2.45"/>
<circle cx="246.6" cy="720.2" r="2.45"/>
<circle cx="246.6" cy="722.5" r="2.45"/>
<circle cx="246.6" cy="724.8" r="2.45"/>
<circle cx="246.6" cy="727.1" r="2.45"/>
<circle cx="246.6" cy="729.4" r="2.45"/>
<circle cx="246.6" cy="731.7" r="2.45"/>
<circle cx="246.6" cy="734.0" r="2.45"/>
<circle cx="246.6" cy="736.3" r="2.45"/>
<circle cx="246.6" cy="738.6" r="2.45"/>
<circle cx="246.6" cy="740.9" r="2.45"/>
<circle cx="246.6" cy="743.2" r="2.45"/>
</g>
<path transform="translate(246.6 673.3)" d="M-5.4 0H5.4 M0 -5.4V5.4 M-5.4 -5.4L5.4 5.4 M-5.4 5.4L5.4 -5.4" stroke="#cb36dc" stroke-width="0.8" stroke-opacity="0.95" fill="none"/>
<g stroke="#a0d4be" fill="none" stroke-width="1.4" stroke-opacity="0.88">
<path d="M270.8 658.6V696.3 M270.8 726.5V737.4 M266.5 658.6h8.6 M266.5 737.4h8.6" stroke-width="1.5"/>
<rect x="263.1" y="696.3" width="15.4" height="30.2"/>
<path d="M263.1 716.9h15.4"/>
</g>
<g fill="#a0d4be">
<circle cx="270.8" cy="658.6" r="2.45"/>
<circle cx="270.8" cy="679.0" r="2.45"/>
<circle cx="270.8" cy="693.8" r="2.45"/>
<circle cx="270.8" cy="696.3" r="2.45"/>
<circle cx="270.8" cy="698.8" r="2.45"/>
<circle cx="270.8" cy="701.3" r="2.45"/>
<circle cx="270.8" cy="703.8" r="2.45"/>
<circle cx="270.8" cy="706.3" r="2.45"/>
<circle cx="270.8" cy="708.8" r="2.45"/>
<circle cx="270.8" cy="715.6" r="2.45"/>
<circle cx="270.8" cy="718.0" r="2.45"/>
<circle cx="270.8" cy="720.4" r="2.45"/>
<circle cx="270.8" cy="722.8" r="2.45"/>
<circle cx="270.8" cy="725.2" r="2.45"/>
<circle cx="270.8" cy="727.6" r="2.45"/>
<circle cx="270.8" cy="730.0" r="2.45"/>
<circle cx="270.8" cy="732.4" r="2.45"/>
<circle cx="270.8" cy="734.8" r="2.45"/>
<circle cx="270.8" cy="737.2" r="2.45"/>
</g>
<path transform="translate(270.8 683.7)" d="M-5.4 0H5.4 M0 -5.4V5.4 M-5.4 -5.4L5.4 5.4 M-5.4 5.4L5.4 -5.4" stroke="#a0d4be" stroke-width="0.8" stroke-opacity="0.95" fill="none"/>
<g stroke="#5596d7" fill="none" stroke-width="1.4" stroke-opacity="0.88">
<path d="M295.1 624.5V706.4 M295.1 727.3V742.4 M290.8 624.5h8.6 M290.8 742.4h8.6" stroke-width="1.5"/>
<rect x="287.4" y="706.4" width="15.4" height="20.9"/>
<path d="M287.4 720.3h15.4"/>
</g>
<g fill="#5596d7">
<circle cx="295.1" cy="624.5" r="2.45"/>
<circle cx="295.1" cy="639.8" r="2.45"/>
<circle cx="295.1" cy="679.5" r="2.45"/>
<circle cx="295.1" cy="687.9" r="2.45"/>
<circle cx="295.1" cy="693.8" r="2.45"/>
<circle cx="295.1" cy="700.5" r="2.45"/>
<circle cx="295.1" cy="702.9" r="2.45"/>
<circle cx="295.1" cy="705.3" r="2.45"/>
<circle cx="295.1" cy="707.7" r="2.45"/>
<circle cx="295.1" cy="710.1" r="2.45"/>
<circle cx="295.1" cy="712.5" r="2.45"/>
<circle cx="295.1" cy="714.9" r="2.45"/>
<circle cx="295.1" cy="717.3" r="2.45"/>
<circle cx="295.1" cy="719.7" r="2.45"/>
<circle cx="295.1" cy="722.1" r="2.45"/>
<circle cx="295.1" cy="724.5" r="2.45"/>
<circle cx="295.1" cy="726.9" r="2.45"/>
<circle cx="295.1" cy="729.3" r="2.45"/>
<circle cx="295.1" cy="731.7" r="2.45"/>
<circle cx="295.1" cy="734.1" r="2.45"/>
<circle cx="295.1" cy="736.5" r="2.45"/>
<circle cx="295.1" cy="738.9" r="2.45"/>
<circle cx="295.1" cy="741.3" r="2.45"/>
</g>
<path transform="translate(295.1 686.2)" d="M-5.4 0H5.4 M0 -5.4V5.4 M-5.4 -5.4L5.4 5.4 M-5.4 5.4L5.4 -5.4" stroke="#5596d7" stroke-width="0.8" stroke-opacity="0.95" fill="none"/>
<g stroke="#e664a5" fill="none" stroke-width="1.4" stroke-opacity="0.88">
<path d="M319.4 652.6V671.4 M319.4 726.4V749.5 M315.1 652.6h8.6 M315.1 749.5h8.6" stroke-width="1.5"/>
<rect x="311.7" y="671.4" width="15.4" height="55.0"/>
<path d="M311.7 710.4h15.4"/>
</g>
<g fill="#e664a5">
<circle cx="319.4" cy="652.6" r="2.45"/>
<circle cx="318.7" cy="709.6" r="2.45"/>
<circle cx="320.2" cy="709.9" r="2.45"/>
<circle cx="319.4" cy="749.5" r="2.45"/>
</g>
<path transform="translate(319.4 689.5)" d="M-5.4 0H5.4 M0 -5.4V5.4 M-5.4 -5.4L5.4 5.4 M-5.4 5.4L5.4 -5.4" stroke="#e664a5" stroke-width="0.8" stroke-opacity="0.95" fill="none"/>
<g stroke="#14a0a0" fill="none" stroke-width="1.4" stroke-opacity="0.88">
<path d="M343.7 656.8V690.3 M343.7 727.5V740.3 M339.4 656.8h8.6 M339.4 740.3h8.6" stroke-width="1.5"/>
<rect x="336.0" y="690.3" width="15.4" height="37.2"/>
<path d="M336.0 717.5h15.4"/>
</g>
<g fill="#14a0a0">
<circle cx="343.7" cy="656.8" r="2.45"/>
<circle cx="343.7" cy="671.4" r="2.45"/>
<circle cx="343.7" cy="690.3" r="2.45"/>
<circle cx="343.7" cy="692.5" r="2.45"/>
<circle cx="343.7" cy="713.8" r="2.45"/>
<circle cx="343.7" cy="722.2" r="2.45"/>
<circle cx="343.7" cy="726.4" r="2.45"/>
<circle cx="343.7" cy="740.3" r="2.45"/>
</g>
<path transform="translate(343.7 696.7)" d="M-5.4 0H5.4 M0 -5.4V5.4 M-5.4 -5.4L5.4 5.4 M-5.4 5.4L5.4 -5.4" stroke="#14a0a0" stroke-width="0.8" stroke-opacity="0.95" fill="none"/>
<g stroke="#6e64cd" fill="none" stroke-width="1.4" stroke-opacity="0.88">
<path d="M367.9 666.3V698.4 M367.9 729.7V740.3 M363.6 666.3h8.6 M363.6 740.3h8.6" stroke-width="1.5"/>
<rect x="360.2" y="698.4" width="15.4" height="31.3"/>
<path d="M360.2 709.6h15.4"/>
</g>
<g fill="#6e64cd">
<circle cx="367.9" cy="666.3" r="2.45"/>
<circle cx="367.9" cy="689.5" r="2.45"/>
<circle cx="367.9" cy="692.0" r="2.45"/>
<circle cx="367.9" cy="697.8" r="2.45"/>
<circle cx="367.9" cy="700.3" r="2.45"/>
<circle cx="367.9" cy="702.8" r="2.45"/>
<circle cx="367.9" cy="705.3" r="2.45"/>
<circle cx="367.9" cy="707.8" r="2.45"/>
<circle cx="367.9" cy="710.3" r="2.45"/>
<circle cx="367.9" cy="715.5" r="2.45"/>
<circle cx="367.9" cy="722.2" r="2.45"/>
<circle cx="367.9" cy="724.6" r="2.45"/>
<circle cx="367.9" cy="727.0" r="2.45"/>
<circle cx="367.9" cy="729.4" r="2.45"/>
<circle cx="367.9" cy="731.8" r="2.45"/>
<circle cx="367.9" cy="734.2" r="2.45"/>
<circle cx="367.9" cy="736.6" r="2.45"/>
<circle cx="367.9" cy="739.0" r="2.45"/>
</g>
<path transform="translate(367.9 694.5)" d="M-5.4 0H5.4 M0 -5.4V5.4 M-5.4 -5.4L5.4 5.4 M-5.4 5.4L5.4 -5.4" stroke="#6e64cd" stroke-width="0.8" stroke-opacity="0.95" fill="none"/>
<g stroke="#aa9187" fill="none" stroke-width="1.4" stroke-opacity="0.88">
<path d="M392.2 657.6V699.5 M392.2 723.0V744.8 M387.9 657.6h8.6 M387.9 744.8h8.6" stroke-width="1.5"/>
<rect x="384.5" y="699.5" width="15.4" height="23.5"/>
<path d="M384.5 715.5h15.4"/>
</g>
<g fill="#aa9187">
<circle cx="392.2" cy="657.6" r="2.45"/>
<circle cx="392.2" cy="671.0" r="2.45"/>
<circle cx="392.2" cy="691.1" r="2.45"/>
<circle cx="392.2" cy="698.7" r="2.45"/>
<circle cx="392.2" cy="701.1" r="2.45"/>
<circle cx="392.2" cy="703.5" r="2.45"/>
<circle cx="392.2" cy="705.9" r="2.45"/>
<circle cx="392.2" cy="714.6" r="2.45"/>
<circle cx="392.2" cy="717.0" r="2.45"/>
<circle cx="392.2" cy="719.4" r="2.45"/>
<circle cx="392.2" cy="721.8" r="2.45"/>
<circle cx="392.2" cy="728.9" r="2.45"/>
<circle cx="392.2" cy="733.9" r="2.45"/>
<circle cx="392.2" cy="740.3" r="2.45"/>
<circle cx="392.2" cy="744.8" r="2.45"/>
</g>
<path transform="translate(392.2 697.0)" d="M-5.4 0H5.4 M0 -5.4V5.4 M-5.4 -5.4L5.4 5.4 M-5.4 5.4L5.4 -5.4" stroke="#aa9187" stroke-width="0.8" stroke-opacity="0.95" fill="none"/>
<g stroke="#2fe0b8" fill="none" stroke-width="1.4" stroke-opacity="0.88">
<path d="M416.5 658.4V708.2 M416.5 733.1V742.6 M412.2 658.4h8.6 M412.2 742.6h8.6" stroke-width="1.5"/>
<rect x="408.8" y="708.2" width="15.4" height="24.9"/>
<path d="M408.8 721.3h15.4"/>
</g>
<g fill="#2fe0b8">
<circle cx="416.5" cy="658.4" r="2.45"/>
<circle cx="416.5" cy="677.2" r="2.45"/>
<circle cx="416.5" cy="681.9" r="2.45"/>
<circle cx="416.5" cy="693.3" r="2.45"/>
<circle cx="416.5" cy="704.6" r="2.45"/>
<circle cx="416.5" cy="706.9" r="2.45"/>
<circle cx="416.5" cy="709.2" r="2.45"/>
<circle cx="416.5" cy="711.5" r="2.45"/>
<circle cx="416.5" cy="713.8" r="2.45"/>
<circle cx="416.5" cy="716.1" r="2.45"/>
<circle cx="416.5" cy="718.4" r="2.45"/>
<circle cx="416.5" cy="720.7" r="2.45"/>
<circle cx="416.5" cy="723.0" r="2.45"/>
<circle cx="416.5" cy="725.3" r="2.45"/>
<circle cx="416.5" cy="727.6" r="2.45"/>
<circle cx="416.5" cy="729.9" r="2.45"/>
<circle cx="416.5" cy="732.2" r="2.45"/>
<circle cx="416.5" cy="734.5" r="2.45"/>
<circle cx="416.5" cy="736.8" r="2.45"/>
<circle cx="416.5" cy="739.1" r="2.45"/>
<circle cx="416.5" cy="741.4" r="2.45"/>
</g>
<path transform="translate(416.5 705.1)" d="M-5.4 0H5.4 M0 -5.4V5.4 M-5.4 -5.4L5.4 5.4 M-5.4 5.4L5.4 -5.4" stroke="#2fe0b8" stroke-width="0.8" stroke-opacity="0.95" fill="none"/>
<g stroke="#f5d0fa" fill="none" stroke-width="1.4" stroke-opacity="0.88">
<path d="M440.8 712.1V712.1 M440.8 721.3V721.3 M436.5 712.1h8.6 M436.5 721.3h8.6" stroke-width="1.5"/>
<rect x="433.1" y="712.1" width="15.4" height="9.2"/>
<path d="M433.1 717.1h15.4"/>
</g>
<g fill="#f5d0fa">
<circle cx="440.8" cy="711.3" r="2.45"/>
<circle cx="440.8" cy="716.3" r="2.45"/>
<circle cx="440.8" cy="722.2" r="2.45"/>
</g>
<path transform="translate(440.8 717.0)" d="M-5.4 0H5.4 M0 -5.4V5.4 M-5.4 -5.4L5.4 5.4 M-5.4 5.4L5.4 -5.4" stroke="#f5d0fa" stroke-width="0.8" stroke-opacity="0.95" fill="none"/>
<g stroke="#d79b0f" fill="none" stroke-width="1.4" stroke-opacity="0.88">
<path d="M465.0 714.6V714.6 M465.0 723.3V723.3 M460.7 714.6h8.6 M460.7 723.3h8.6" stroke-width="1.5"/>
<rect x="457.3" y="714.6" width="15.4" height="8.7"/>
<path d="M457.3 720.5h15.4"/>
</g>
<g fill="#d79b0f">
<circle cx="465.0" cy="714.6" r="2.45"/>
<circle cx="465.0" cy="719.6" r="2.45"/>
<circle cx="465.0" cy="722.2" r="2.45"/>
</g>
<path transform="translate(465.0 719.5)" d="M-5.4 0H5.4 M0 -5.4V5.4 M-5.4 -5.4L5.4 5.4 M-5.4 5.4L5.4 -5.4" stroke="#d79b0f" stroke-width="0.8" stroke-opacity="0.95" fill="none"/>
<g stroke="#6eb214" fill="none" stroke-width="1.4" stroke-opacity="0.88">
<path d="M489.3 717.8V717.8 M489.3 725.8V725.8 M485.0 717.8h8.6 M485.0 725.8h8.6" stroke-width="1.5"/>
<rect x="481.6" y="717.8" width="15.4" height="8.0"/>
<path d="M481.6 723.1h15.4"/>
</g>
<g fill="#6eb214">
<circle cx="489.3" cy="717.8" r="2.45"/>
<circle cx="489.3" cy="721.5" r="2.45"/>
<circle cx="489.3" cy="724.8" r="2.45"/>
<circle cx="489.3" cy="726.5" r="2.45"/>
</g>
<path transform="translate(489.3 722.3)" d="M-5.4 0H5.4 M0 -5.4V5.4 M-5.4 -5.4L5.4 5.4 M-5.4 5.4L5.4 -5.4" stroke="#6eb214" stroke-width="0.8" stroke-opacity="0.95" fill="none"/>
<g stroke="#be69af" fill="none" stroke-width="1.4" stroke-opacity="0.88">
<path d="M513.6 694.2V711.8 M513.6 738.6V757.7 M509.3 694.2h8.6 M509.3 757.7h8.6" stroke-width="1.5"/>
<rect x="505.9" y="711.8" width="15.4" height="26.8"/>
<path d="M505.9 733.6h15.4"/>
</g>
<g fill="#be69af">
<circle cx="513.6" cy="694.2" r="2.45"/>
<circle cx="513.6" cy="711.8" r="2.45"/>
<circle cx="513.6" cy="721.5" r="2.45"/>
<circle cx="513.6" cy="731.8" r="2.45"/>
<circle cx="513.6" cy="735.0" r="2.45"/>
<circle cx="513.6" cy="738.2" r="2.45"/>
<circle cx="513.6" cy="757.7" r="2.45"/>
</g>
<path transform="translate(513.6 723.7)" d="M-5.4 0H5.4 M0 -5.4V5.4 M-5.4 -5.4L5.4 5.4 M-5.4 5.4L5.4 -5.4" stroke="#be69af" stroke-width="0.8" stroke-opacity="0.95" fill="none"/>
<rect x="112.9" y="439.2" width="412.7" height="336.5" fill="none" stroke="#333" stroke-width="1.3"/>
<path d="M112.9 768.7h-2.2 M112.9 757.9h-2.2 M112.9 749.5h-2.2 M112.9 742.6h-2.2 M112.9 736.8h-2.2 M112.9 731.8h-2.2 M112.9 727.4h-2.2 M112.9 723.4h-4.0 M112.9 697.3h-2.2 M112.9 682.0h-2.2 M112.9 671.2h-2.2 M112.9 662.8h-2.2 M112.9 655.9h-2.2 M112.9 650.1h-2.2 M112.9 645.1h-2.2 M112.9 640.6h-2.2 M112.9 636.7h-4.0 M112.9 610.6h-2.2 M112.9 595.3h-2.2 M112.9 584.5h-2.2 M112.9 576.0h-2.2 M112.9 569.2h-2.2 M112.9 563.4h-2.2 M112.9 558.3h-2.2 M112.9 553.9h-2.2 M112.9 549.9h-4.0 M112.9 523.8h-2.2 M112.9 508.6h-2.2 M112.9 497.7h-2.2 M112.9 489.3h-2.2 M112.9 482.5h-2.2 M112.9 476.6h-2.2 M112.9 471.6h-2.2 M112.9 467.2h-2.2 M112.9 463.2h-4.0" stroke="#333" stroke-width="1.1" fill="none"/>
<text x="107.1" y="469.3" font-size="17.3" text-anchor="end">100</text>
<text x="107.1" y="556.0" font-size="17.3" text-anchor="end">10</text>
<text x="107.1" y="642.8" font-size="17.3" text-anchor="end">1</text>
<text x="107.1" y="729.5" font-size="17.3" text-anchor="end">0.1</text>
<text transform="translate(130.8 782) rotate(-90)" font-size="17.3" text-anchor="end">MGPM</text>
<text transform="translate(155.1 782) rotate(-90)" font-size="17.3" text-anchor="end">MRCM</text>
<text transform="translate(179.3 782) rotate(-90)" font-size="17.3" text-anchor="end">MEMA</text>
<text transform="translate(203.6 782) rotate(-90)" font-size="17.3" text-anchor="end">MA</text>
<text transform="translate(227.9 782) rotate(-90)" font-size="17.3" text-anchor="end">MF</text>
<text transform="translate(252.2 782) rotate(-90)" font-size="17.3" text-anchor="end">MRPP</text>
<text transform="translate(276.4 782) rotate(-90)" font-size="17.3" text-anchor="end">MMP</text>
<text transform="translate(300.7 782) rotate(-90)" font-size="17.3" text-anchor="end">MCCO</text>
<text transform="translate(325.0 782) rotate(-90)" font-size="17.3" text-anchor="end">MOTE</text>
<text transform="translate(349.3 782) rotate(-90)" font-size="17.3" text-anchor="end">MM</text>
<text transform="translate(373.6 782) rotate(-90)" font-size="17.3" text-anchor="end">PRRM</text>
<text transform="translate(397.8 782) rotate(-90)" font-size="17.3" text-anchor="end">MSPM</text>
<text transform="translate(422.1 782) rotate(-90)" font-size="17.3" text-anchor="end">MT</text>
<text transform="translate(446.4 782) rotate(-90)" font-size="17.3" text-anchor="end">PPCF</text>
<text transform="translate(470.6 782) rotate(-90)" font-size="17.3" text-anchor="end">MPPP</text>
<text transform="translate(494.9 782) rotate(-90)" font-size="17.3" text-anchor="end">UWR</text>
<text transform="translate(519.2 782) rotate(-90)" font-size="17.3" text-anchor="end">OTHE</text>
<path d="M125.2 775.7v3.4 M149.5 775.7v3.4 M173.8 775.7v3.4 M198.0 775.7v3.4 M222.3 775.7v3.4 M246.6 775.7v3.4 M270.8 775.7v3.4 M295.1 775.7v3.4 M319.4 775.7v3.4 M343.7 775.7v3.4 M367.9 775.7v3.4 M392.2 775.7v3.4 M416.5 775.7v3.4 M440.8 775.7v3.4 M465.0 775.7v3.4 M489.3 775.7v3.4 M513.6 775.7v3.4" stroke="#333" stroke-width="1.1" fill="none"/>
<text transform="translate(68.5 607.3) rotate(-90)" font-size="17.5" text-anchor="middle">CCl<tspan font-size="11.5" dy="3.5">4</tspan><tspan dy="-3.5"> (ppb)</tspan></text>
<rect x="379.6" y="449.6" width="38.4" height="16.8" fill="#fff" stroke="#222" stroke-width="1"/>
<path d="M392.3 471.2h13 M398.8 471.2v18 M392.3 489.2h13" stroke="#222" stroke-width="0.9" fill="none"/>
<path d="M386.3 503h24.5" stroke="#222" stroke-width="0.9" fill="none"/>
<path transform="translate(398.6 525)" d="M-7.6 0H7.6 M0 -7.6V7.6 M-7.6 -7.6L7.6 7.6 M-7.6 7.6L7.6 -7.6" stroke="#222" stroke-width="0.9" fill="none"/>
<text x="423.7" y="464.0" font-size="17.3">25%~75%</text>
<text x="423.7" y="485.6" font-size="17.3">5%~95%</text>
<text x="423.7" y="508.0" font-size="17.3">Median Line</text>
<text x="423.7" y="530.0" font-size="17.3">Mean</text>
</g>
</svg></body></html>
